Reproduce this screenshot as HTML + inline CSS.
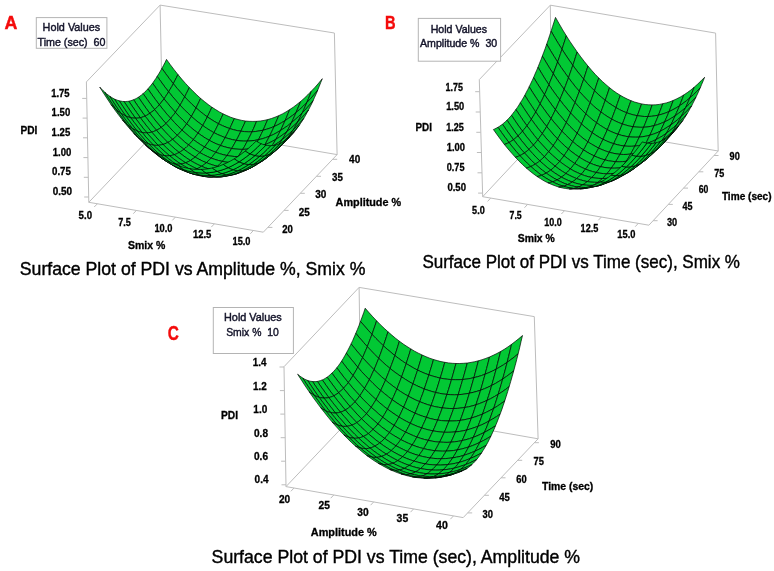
<!DOCTYPE html>
<html><head><meta charset="utf-8"><title>Surface Plots</title>
<style>html,body{margin:0;padding:0;background:#fff}svg{display:block}text{font-family:"Liberation Sans",sans-serif}</style></head>
<body>
<svg width="774" height="571" viewBox="0 0 774 571">
<rect width="774" height="571" fill="#fff"/>
<g stroke="#bdbdbd" stroke-width="1" fill="none"><line x1="88.8" y1="202.3" x2="263.3" y2="232.2"/><line x1="263.3" y1="232.2" x2="337.1" y2="154.6"/><line x1="88.8" y1="202.3" x2="86.4" y2="81.9"/><line x1="86.4" y1="81.9" x2="160.1" y2="5.1"/><line x1="160.1" y1="5.1" x2="334.4" y2="33.0"/><line x1="334.4" y1="33.0" x2="337.1" y2="154.6"/><line x1="160.1" y1="5.1" x2="162.6" y2="124.7"/><line x1="88.8" y1="202.3" x2="162.6" y2="124.7"/><line x1="162.6" y1="124.7" x2="337.1" y2="154.6"/></g>
<g stroke="#bdbdbd" stroke-width="1"><line x1="97.4" y1="203.8" x2="94.2" y2="207.0"/><line x1="136.4" y1="210.4" x2="133.3" y2="213.7"/><line x1="175.4" y1="217.1" x2="172.3" y2="220.4"/><line x1="214.4" y1="223.8" x2="211.3" y2="227.1"/><line x1="253.4" y1="230.5" x2="250.3" y2="233.8"/></g><g stroke="#bdbdbd" stroke-width="1"><line x1="267.9" y1="227.4" x2="272.4" y2="227.4"/><line x1="284.1" y1="210.4" x2="288.6" y2="210.4"/><line x1="300.3" y1="193.3" x2="304.8" y2="193.3"/><line x1="316.5" y1="176.3" x2="321.0" y2="176.3"/><line x1="332.7" y1="159.3" x2="337.2" y2="159.3"/></g><g stroke="#bdbdbd" stroke-width="1"><line x1="88.7" y1="197.0" x2="84.2" y2="197.0"/><line x1="88.3" y1="177.3" x2="83.8" y2="177.3"/><line x1="87.9" y1="157.6" x2="83.4" y2="157.6"/><line x1="87.5" y1="137.8" x2="83.0" y2="137.8"/><line x1="87.1" y1="118.1" x2="82.6" y2="118.1"/><line x1="86.7" y1="98.4" x2="82.2" y2="98.4"/></g>
<g fill="#02c834" stroke="#000" stroke-width="0.68" stroke-linejoin="round"><polygon points="161.9,68.4 165.7,73.7 169.5,78.8 173.3,83.7 174.8,80.7 176.4,77.7 177.9,74.5 174.1,69.7 170.3,64.7 166.5,59.4 165.0,62.6 163.4,65.6"/><polygon points="173.3,83.7 177.1,88.3 180.9,92.7 184.7,96.8 186.2,93.8 187.8,90.7 189.3,87.5 185.5,83.4 181.7,79.1 177.9,74.5 176.4,77.7 174.8,80.7"/><polygon points="184.7,96.8 188.5,100.8 192.2,104.5 196.0,107.9 197.5,104.9 199.1,101.7 200.6,98.4 196.9,95.0 193.1,91.3 189.3,87.5 187.8,90.7 186.2,93.8"/><polygon points="196.0,107.9 199.8,111.1 203.5,114.1 207.3,116.9 208.8,113.8 210.4,110.5 211.9,107.2 208.2,104.5 204.4,101.5 200.6,98.4 199.1,101.7 197.5,104.9"/><polygon points="207.3,116.9 211.1,119.4 214.8,121.7 218.5,123.8 220.1,120.6 221.6,117.3 223.2,113.9 219.4,111.9 215.7,109.6 211.9,107.2 210.4,110.5 208.8,113.8"/><polygon points="218.5,123.8 222.3,125.6 226.0,127.2 229.7,128.6 231.3,125.3 232.8,121.9 234.4,118.5 230.6,117.2 226.9,115.6 223.2,113.9 221.6,117.3 220.1,120.6"/><polygon points="229.7,128.6 233.5,129.7 237.2,130.6 240.9,131.2 242.4,127.9 244.0,124.5 245.5,121.0 241.8,120.4 238.1,119.5 234.4,118.5 232.8,121.9 231.3,125.3"/><polygon points="240.9,131.2 244.6,131.6 248.3,131.8 252.0,131.8 253.6,128.4 255.1,124.9 256.6,121.3 252.9,121.4 249.2,121.3 245.5,121.0 244.0,124.5 242.4,127.9"/><polygon points="252.0,131.8 255.7,131.5 259.4,130.9 263.1,130.2 264.6,126.8 266.1,123.2 267.7,119.6 264.0,120.4 260.3,121.0 256.6,121.3 255.1,124.9 253.6,128.4"/><polygon points="263.1,130.2 266.8,129.2 270.4,128.0 274.1,126.5 275.6,123.0 277.2,119.4 278.7,115.7 275.0,117.2 271.4,118.5 267.7,119.6 266.1,123.2 264.6,126.8"/><polygon points="274.1,126.5 277.8,124.8 281.4,122.8 285.1,120.6 286.6,117.1 288.1,113.4 289.7,109.6 286.0,111.9 282.4,113.9 278.7,115.7 277.2,119.4 275.6,123.0"/><polygon points="285.1,120.6 288.7,118.2 292.4,115.5 296.0,112.6 297.5,109.0 299.1,105.3 300.6,101.5 296.9,104.4 293.3,107.2 289.7,109.6 288.1,113.4 286.6,117.1"/><polygon points="296.0,112.6 299.6,109.5 303.3,106.1 306.9,102.5 308.4,98.8 309.9,95.1 311.4,91.1 307.8,94.8 304.2,98.3 300.6,101.5 299.1,105.3 297.5,109.0"/><polygon points="306.9,102.5 310.5,98.7 314.1,94.6 317.7,90.2 319.2,86.5 320.7,82.6 322.3,78.7 318.7,83.1 315.1,87.2 311.4,91.1 309.9,95.1 308.4,98.8"/><polygon points="157.2,76.3 161.0,81.7 164.8,86.9 168.6,91.8 170.2,89.2 171.8,86.5 173.3,83.7 169.5,78.8 165.7,73.7 161.9,68.4 160.3,71.2 158.8,73.8"/><polygon points="168.6,91.8 172.4,96.4 176.2,100.9 180.0,105.1 181.6,102.5 183.1,99.7 184.7,96.8 180.9,92.7 177.1,88.3 173.3,83.7 171.8,86.5 170.2,89.2"/><polygon points="180.0,105.1 183.8,109.1 187.6,112.9 191.4,116.4 192.9,113.7 194.5,110.9 196.0,107.9 192.2,104.5 188.5,100.8 184.7,96.8 183.1,99.7 181.6,102.5"/><polygon points="191.4,116.4 195.1,119.7 198.9,122.7 202.7,125.5 204.2,122.8 205.8,119.9 207.3,116.9 203.5,114.1 199.8,111.1 196.0,107.9 194.5,110.9 192.9,113.7"/><polygon points="202.7,125.5 206.4,128.1 210.2,130.5 213.9,132.6 215.5,129.8 217.0,126.8 218.5,123.8 214.8,121.7 211.1,119.4 207.3,116.9 205.8,119.9 204.2,122.8"/><polygon points="213.9,132.6 217.6,134.5 221.4,136.1 225.1,137.6 226.7,134.7 228.2,131.7 229.7,128.6 226.0,127.2 222.3,125.6 218.5,123.8 217.0,126.8 215.5,129.8"/><polygon points="225.1,137.6 228.8,138.7 232.6,139.7 236.3,140.4 237.8,137.5 239.4,134.4 240.9,131.2 237.2,130.6 233.5,129.7 229.7,128.6 228.2,131.7 226.7,134.7"/><polygon points="236.3,140.4 240.0,140.9 243.7,141.1 247.4,141.1 248.9,138.1 250.5,135.0 252.0,131.8 248.3,131.8 244.6,131.6 240.9,131.2 239.4,134.4 237.8,137.5"/><polygon points="247.4,141.1 251.1,140.9 254.8,140.4 258.5,139.7 260.0,136.7 261.5,133.5 263.1,130.2 259.4,130.9 255.7,131.5 252.0,131.8 250.5,135.0 248.9,138.1"/><polygon points="258.5,139.7 262.1,138.8 265.8,137.6 269.5,136.2 271.0,133.1 272.6,129.8 274.1,126.5 270.4,128.0 266.8,129.2 263.1,130.2 261.5,133.5 260.0,136.7"/><polygon points="269.5,136.2 273.2,134.6 276.8,132.7 280.5,130.5 282.0,127.4 283.5,124.1 285.1,120.6 281.4,122.8 277.8,124.8 274.1,126.5 272.6,129.8 271.0,133.1"/><polygon points="280.5,130.5 284.1,128.2 287.8,125.6 291.4,122.7 292.9,119.5 294.5,116.1 296.0,112.6 292.4,115.5 288.7,118.2 285.1,120.6 283.5,124.1 282.0,127.4"/><polygon points="291.4,122.7 295.0,119.7 298.7,116.3 302.3,112.8 303.8,109.5 305.3,106.1 306.9,102.5 303.3,106.1 299.6,109.5 296.0,112.6 294.5,116.1 292.9,119.5"/><polygon points="302.3,112.8 305.9,109.0 309.5,105.0 313.1,100.7 314.6,97.3 316.2,93.8 317.7,90.2 314.1,94.6 310.5,98.7 306.9,102.5 305.3,106.1 303.8,109.5"/><polygon points="152.6,83.2 156.4,88.6 160.2,93.8 164.0,98.8 165.5,96.6 167.1,94.2 168.6,91.8 164.8,86.9 161.0,81.7 157.2,76.3 155.7,78.7 154.1,81.0"/><polygon points="164.0,98.8 167.8,103.5 171.6,108.0 175.4,112.3 176.9,110.0 178.5,107.6 180.0,105.1 176.2,100.9 172.4,96.4 168.6,91.8 167.1,94.2 165.5,96.6"/><polygon points="175.4,112.3 179.1,116.4 182.9,120.2 186.7,123.8 188.3,121.4 189.8,119.0 191.4,116.4 187.6,112.9 183.8,109.1 180.0,105.1 178.5,107.6 176.9,110.0"/><polygon points="186.7,123.8 190.5,127.1 194.2,130.2 198.0,133.1 199.6,130.7 201.1,128.2 202.7,125.5 198.9,122.7 195.1,119.7 191.4,116.4 189.8,119.0 188.3,121.4"/><polygon points="198.0,133.1 201.8,135.7 205.5,138.2 209.3,140.3 210.8,137.9 212.4,135.3 213.9,132.6 210.2,130.5 206.4,128.1 202.7,125.5 201.1,128.2 199.6,130.7"/><polygon points="209.3,140.3 213.0,142.3 216.7,144.0 220.5,145.5 222.0,143.0 223.6,140.3 225.1,137.6 221.4,136.1 217.6,134.5 213.9,132.6 212.4,135.3 210.8,137.9"/><polygon points="220.5,145.5 224.2,146.7 227.9,147.7 231.6,148.5 233.2,145.9 234.7,143.2 236.3,140.4 232.6,139.7 228.8,138.7 225.1,137.6 223.6,140.3 222.0,143.0"/><polygon points="231.6,148.5 235.3,149.0 239.0,149.3 242.7,149.4 244.3,146.8 245.8,144.0 247.4,141.1 243.7,141.1 240.0,140.9 236.3,140.4 234.7,143.2 233.2,145.9"/><polygon points="242.7,149.4 246.4,149.2 250.1,148.8 253.8,148.2 255.4,145.5 256.9,142.7 258.5,139.7 254.8,140.4 251.1,140.9 247.4,141.1 245.8,144.0 244.3,146.8"/><polygon points="253.8,148.2 257.5,147.3 261.2,146.2 264.9,144.8 266.4,142.1 267.9,139.2 269.5,136.2 265.8,137.6 262.1,138.8 258.5,139.7 256.9,142.7 255.4,145.5"/><polygon points="264.9,144.8 268.5,143.2 272.2,141.4 275.8,139.4 277.4,136.5 278.9,133.6 280.5,130.5 276.8,132.7 273.2,134.6 269.5,136.2 267.9,139.2 266.4,142.1"/><polygon points="275.8,139.4 279.5,137.0 283.1,134.5 286.8,131.7 288.3,128.9 289.9,125.9 291.4,122.7 287.8,125.6 284.1,128.2 280.5,130.5 278.9,133.6 277.4,136.5"/><polygon points="286.8,131.7 290.4,128.7 294.0,125.5 297.7,122.0 299.2,119.0 300.7,116.0 302.3,112.8 298.7,116.3 295.0,119.7 291.4,122.7 289.9,125.9 288.3,128.9"/><polygon points="297.7,122.0 301.3,118.2 304.9,114.3 308.5,110.0 310.0,107.0 311.6,103.9 313.1,100.7 309.5,105.0 305.9,109.0 302.3,112.8 300.7,116.0 299.2,119.0"/><polygon points="147.9,88.9 151.7,94.4 155.5,99.7 159.3,104.7 160.9,102.9 162.4,100.9 164.0,98.8 160.2,93.8 156.4,88.6 152.6,83.2 151.0,85.2 149.4,87.1"/><polygon points="159.3,104.7 163.1,109.5 166.9,114.1 170.7,118.4 172.2,116.5 173.8,114.5 175.4,112.3 171.6,108.0 167.8,103.5 164.0,98.8 162.4,100.9 160.9,102.9"/><polygon points="170.7,118.4 174.5,122.5 178.2,126.4 182.0,130.1 183.6,128.1 185.1,126.0 186.7,123.8 182.9,120.2 179.1,116.4 175.4,112.3 173.8,114.5 172.2,116.5"/><polygon points="182.0,130.1 185.8,133.5 189.5,136.6 193.3,139.6 194.9,137.5 196.4,135.4 198.0,133.1 194.2,130.2 190.5,127.1 186.7,123.8 185.1,126.0 183.6,128.1"/><polygon points="193.3,139.6 197.1,142.3 200.8,144.8 204.6,147.0 206.1,144.9 207.7,142.7 209.3,140.3 205.5,138.2 201.8,135.7 198.0,133.1 196.4,135.4 194.9,137.5"/><polygon points="204.6,147.0 208.3,149.0 212.1,150.8 215.8,152.3 217.3,150.1 218.9,147.9 220.5,145.5 216.7,144.0 213.0,142.3 209.3,140.3 207.7,142.7 206.1,144.9"/><polygon points="215.8,152.3 219.5,153.6 223.2,154.7 227.0,155.5 228.5,153.3 230.1,151.0 231.6,148.5 227.9,147.7 224.2,146.7 220.5,145.5 218.9,147.9 217.3,150.1"/><polygon points="227.0,155.5 230.7,156.1 234.4,156.5 238.1,156.6 239.6,154.3 241.2,151.9 242.7,149.4 239.0,149.3 235.3,149.0 231.6,148.5 230.1,151.0 228.5,153.3"/><polygon points="238.1,156.6 241.8,156.5 245.5,156.1 249.2,155.5 250.7,153.2 252.3,150.8 253.8,148.2 250.1,148.8 246.4,149.2 242.7,149.4 241.2,151.9 239.6,154.3"/><polygon points="249.2,155.5 252.8,154.7 256.5,153.7 260.2,152.4 261.7,150.0 263.3,147.5 264.9,144.8 261.2,146.2 257.5,147.3 253.8,148.2 252.3,150.8 250.7,153.2"/><polygon points="260.2,152.4 263.9,150.8 267.5,149.1 271.2,147.1 272.7,144.6 274.3,142.0 275.8,139.4 272.2,141.4 268.5,143.2 264.9,144.8 263.3,147.5 261.7,150.0"/><polygon points="271.2,147.1 274.8,144.8 278.5,142.4 282.1,139.6 283.7,137.1 285.2,134.5 286.8,131.7 283.1,134.5 279.5,137.0 275.8,139.4 274.3,142.0 272.7,144.6"/><polygon points="282.1,139.6 285.8,136.7 289.4,133.5 293.0,130.1 294.6,127.5 296.1,124.8 297.7,122.0 294.0,125.5 290.4,128.7 286.8,131.7 285.2,134.5 283.7,137.1"/><polygon points="293.0,130.1 296.6,126.4 300.2,122.5 303.8,118.3 305.4,115.7 306.9,112.9 308.5,110.0 304.9,114.3 301.3,118.2 297.7,122.0 296.1,124.8 294.6,127.5"/><polygon points="143.1,93.6 147.0,99.2 150.8,104.5 154.6,109.6 156.1,108.1 157.7,106.5 159.3,104.7 155.5,99.7 151.7,94.4 147.9,88.9 146.3,90.6 144.7,92.2"/><polygon points="154.6,109.6 158.4,114.4 162.2,119.1 166.0,123.5 167.5,121.9 169.1,120.2 170.7,118.4 166.9,114.1 163.1,109.5 159.3,104.7 157.7,106.5 156.1,108.1"/><polygon points="166.0,123.5 169.7,127.6 173.5,131.6 177.3,135.3 178.9,133.7 180.4,131.9 182.0,130.1 178.2,126.4 174.5,122.5 170.7,118.4 169.1,120.2 167.5,121.9"/><polygon points="177.3,135.3 181.1,138.7 184.8,142.0 188.6,145.0 190.2,143.3 191.7,141.5 193.3,139.6 189.5,136.6 185.8,133.5 182.0,130.1 180.4,131.9 178.9,133.7"/><polygon points="188.6,145.0 192.4,147.7 196.1,150.3 199.9,152.6 201.4,150.8 203.0,149.0 204.6,147.0 200.8,144.8 197.1,142.3 193.3,139.6 191.7,141.5 190.2,143.3"/><polygon points="199.9,152.6 203.6,154.6 207.3,156.5 211.1,158.1 212.7,156.3 214.2,154.3 215.8,152.3 212.1,150.8 208.3,149.0 204.6,147.0 203.0,149.0 201.4,150.8"/><polygon points="211.1,158.1 214.8,159.4 218.5,160.5 222.3,161.4 223.8,159.6 225.4,157.6 227.0,155.5 223.2,154.7 219.5,153.6 215.8,152.3 214.2,154.3 212.7,156.3"/><polygon points="222.3,161.4 226.0,162.1 229.7,162.5 233.4,162.7 235.0,160.8 236.5,158.7 238.1,156.6 234.4,156.5 230.7,156.1 227.0,155.5 225.4,157.6 223.8,159.6"/><polygon points="233.4,162.7 237.1,162.6 240.8,162.3 244.5,161.8 246.0,159.9 247.6,157.8 249.2,155.5 245.5,156.1 241.8,156.5 238.1,156.6 236.5,158.7 235.0,160.8"/><polygon points="244.5,161.8 248.2,161.1 251.8,160.1 255.5,158.8 257.1,156.8 258.6,154.7 260.2,152.4 256.5,153.7 252.8,154.7 249.2,155.5 247.6,157.8 246.0,159.9"/><polygon points="255.5,158.8 259.2,157.4 262.8,155.7 266.5,153.7 268.1,151.6 269.6,149.4 271.2,147.1 267.5,149.1 263.9,150.8 260.2,152.4 258.6,154.7 257.1,156.8"/><polygon points="266.5,153.7 270.2,151.5 273.8,149.1 277.4,146.4 279.0,144.3 280.6,142.0 282.1,139.6 278.5,142.4 274.8,144.8 271.2,147.1 269.6,149.4 268.1,151.6"/><polygon points="277.4,146.4 281.1,143.6 284.7,140.4 288.3,137.0 289.9,134.8 291.5,132.5 293.0,130.1 289.4,133.5 285.8,136.7 282.1,139.6 280.6,142.0 279.0,144.3"/><polygon points="288.3,137.0 292.0,133.4 295.6,129.6 299.2,125.5 300.7,123.2 302.3,120.8 303.8,118.3 300.2,122.5 296.6,126.4 293.0,130.1 291.5,132.5 289.9,134.8"/><polygon points="138.4,97.2 142.2,102.8 146.0,108.2 149.8,113.4 151.4,112.2 153.0,111.0 154.6,109.6 150.8,104.5 147.0,99.2 143.1,93.6 141.6,94.9 140.0,96.1"/><polygon points="149.8,113.4 153.6,118.3 157.4,123.0 161.2,127.4 162.8,126.2 164.4,124.9 166.0,123.5 162.2,119.1 158.4,114.4 154.6,109.6 153.0,111.0 151.4,112.2"/><polygon points="161.2,127.4 165.0,131.7 168.8,135.6 172.6,139.4 174.1,138.1 175.7,136.8 177.3,135.3 173.5,131.6 169.7,127.6 166.0,123.5 164.4,124.9 162.8,126.2"/><polygon points="172.6,139.4 176.3,142.9 180.1,146.2 183.9,149.3 185.5,148.0 187.0,146.5 188.6,145.0 184.8,142.0 181.1,138.7 177.3,135.3 175.7,136.8 174.1,138.1"/><polygon points="183.9,149.3 187.6,152.1 191.4,154.7 195.1,157.1 196.7,155.7 198.3,154.2 199.9,152.6 196.1,150.3 192.4,147.7 188.6,145.0 187.0,146.5 185.5,148.0"/><polygon points="195.1,157.1 198.9,159.2 202.6,161.1 206.4,162.7 207.9,161.3 209.5,159.7 211.1,158.1 207.3,156.5 203.6,154.6 199.9,152.6 198.3,154.2 196.7,155.7"/><polygon points="206.4,162.7 210.1,164.1 213.8,165.3 217.5,166.3 219.1,164.8 220.7,163.2 222.3,161.4 218.5,160.5 214.8,159.4 211.1,158.1 209.5,159.7 207.9,161.3"/><polygon points="217.5,166.3 221.3,167.0 225.0,167.5 228.7,167.7 230.2,166.2 231.8,164.5 233.4,162.7 229.7,162.5 226.0,162.1 222.3,161.4 220.7,163.2 219.1,164.8"/><polygon points="228.7,167.7 232.4,167.7 236.1,167.5 239.8,167.0 241.3,165.4 242.9,163.7 244.5,161.8 240.8,162.3 237.1,162.6 233.4,162.7 231.8,164.5 230.2,166.2"/><polygon points="239.8,167.0 243.4,166.3 247.1,165.4 250.8,164.2 252.4,162.5 253.9,160.7 255.5,158.8 251.8,160.1 248.2,161.1 244.5,161.8 242.9,163.7 241.3,165.4"/><polygon points="250.8,164.2 254.5,162.8 258.1,161.1 261.8,159.3 263.4,157.5 264.9,155.7 266.5,153.7 262.8,155.7 259.2,157.4 255.5,158.8 253.9,160.7 252.4,162.5"/><polygon points="261.8,159.3 265.4,157.1 269.1,154.8 272.7,152.2 274.3,150.4 275.9,148.5 277.4,146.4 273.8,149.1 270.2,151.5 266.5,153.7 264.9,155.7 263.4,157.5"/><polygon points="272.7,152.2 276.4,149.3 280.0,146.3 283.6,143.0 285.2,141.1 286.8,139.1 288.3,137.0 284.7,140.4 281.1,143.6 277.4,146.4 275.9,148.5 274.3,150.4"/><polygon points="283.6,143.0 287.3,139.4 290.9,135.6 294.5,131.6 296.1,129.7 297.6,127.6 299.2,125.5 295.6,129.6 292.0,133.4 288.3,137.0 286.8,139.1 285.2,141.1"/><polygon points="133.6,99.7 137.4,105.4 141.3,110.9 145.1,116.1 146.7,115.3 148.2,114.4 149.8,113.4 146.0,108.2 142.2,102.8 138.4,97.2 136.8,98.2 135.2,99.0"/><polygon points="145.1,116.1 148.9,121.0 152.7,125.8 156.5,130.3 158.0,129.5 159.6,128.5 161.2,127.4 157.4,123.0 153.6,118.3 149.8,113.4 148.2,114.4 146.7,115.3"/><polygon points="156.5,130.3 160.2,134.6 164.0,138.6 167.8,142.5 169.4,141.6 171.0,140.5 172.6,139.4 168.8,135.6 165.0,131.7 161.2,127.4 159.6,128.5 158.0,129.5"/><polygon points="167.8,142.5 171.6,146.0 175.4,149.4 179.1,152.5 180.7,151.6 182.3,150.5 183.9,149.3 180.1,146.2 176.3,142.9 172.6,139.4 171.0,140.5 169.4,141.6"/><polygon points="179.1,152.5 182.9,155.4 186.6,158.0 190.4,160.5 192.0,159.4 193.6,158.3 195.1,157.1 191.4,154.7 187.6,152.1 183.9,149.3 182.3,150.5 180.7,151.6"/><polygon points="190.4,160.5 194.1,162.6 197.9,164.6 201.6,166.3 203.2,165.2 204.8,164.0 206.4,162.7 202.6,161.1 198.9,159.2 195.1,157.1 193.6,158.3 192.0,159.4"/><polygon points="201.6,166.3 205.3,167.8 209.1,169.0 212.8,170.0 214.4,168.9 216.0,167.6 217.5,166.3 213.8,165.3 210.1,164.1 206.4,162.7 204.8,164.0 203.2,165.2"/><polygon points="212.8,170.0 216.5,170.8 220.2,171.3 223.9,171.6 225.5,170.4 227.1,169.1 228.7,167.7 225.0,167.5 221.3,167.0 217.5,166.3 216.0,167.6 214.4,168.9"/><polygon points="223.9,171.6 227.6,171.7 231.3,171.5 235.0,171.1 236.6,169.9 238.2,168.5 239.8,167.0 236.1,167.5 232.4,167.7 228.7,167.7 227.1,169.1 225.5,170.4"/><polygon points="235.0,171.1 238.7,170.5 242.4,169.6 246.1,168.5 247.6,167.2 249.2,165.7 250.8,164.2 247.1,165.4 243.4,166.3 239.8,167.0 238.2,168.5 236.6,169.9"/><polygon points="246.1,168.5 249.7,167.1 253.4,165.5 257.1,163.7 258.6,162.3 260.2,160.9 261.8,159.3 258.1,161.1 254.5,162.8 250.8,164.2 249.2,165.7 247.6,167.2"/><polygon points="257.1,163.7 260.7,161.6 264.4,159.3 268.0,156.8 269.6,155.4 271.2,153.8 272.7,152.2 269.1,154.8 265.4,157.1 261.8,159.3 260.2,160.9 258.6,162.3"/><polygon points="268.0,156.8 271.7,154.0 275.3,151.0 278.9,147.8 280.5,146.3 282.1,144.7 283.6,143.0 280.0,146.3 276.4,149.3 272.7,152.2 271.2,153.8 269.6,155.4"/><polygon points="278.9,147.8 282.5,144.3 286.2,140.5 289.8,136.6 291.4,135.0 292.9,133.4 294.5,131.6 290.9,135.6 287.3,139.4 283.6,143.0 282.1,144.7 280.5,146.3"/><polygon points="128.8,101.2 132.7,106.9 136.5,112.4 140.3,117.7 141.9,117.3 143.5,116.7 145.1,116.1 141.3,110.9 137.4,105.4 133.6,99.7 132.0,100.3 130.4,100.8"/><polygon points="140.3,117.7 144.1,122.7 147.9,127.5 151.7,132.1 153.3,131.6 154.9,131.0 156.5,130.3 152.7,125.8 148.9,121.0 145.1,116.1 143.5,116.7 141.9,117.3"/><polygon points="151.7,132.1 155.5,136.4 159.3,140.6 163.0,144.4 164.6,143.9 166.2,143.2 167.8,142.5 164.0,138.6 160.2,134.6 156.5,130.3 154.9,131.0 153.3,131.6"/><polygon points="163.0,144.4 166.8,148.1 170.6,151.5 174.3,154.7 175.9,154.1 177.5,153.3 179.1,152.5 175.4,149.4 171.6,146.0 167.8,142.5 166.2,143.2 164.6,143.9"/><polygon points="174.3,154.7 178.1,157.6 181.9,160.3 185.6,162.8 187.2,162.1 188.8,161.4 190.4,160.5 186.6,158.0 182.9,155.4 179.1,152.5 177.5,153.3 175.9,154.1"/><polygon points="185.6,162.8 189.4,165.0 193.1,167.0 196.8,168.8 198.4,168.1 200.0,167.2 201.6,166.3 197.9,164.6 194.1,162.6 190.4,160.5 188.8,161.4 187.2,162.1"/><polygon points="196.8,168.8 200.6,170.3 204.3,171.6 208.0,172.7 209.6,171.9 211.2,171.0 212.8,170.0 209.1,169.0 205.3,167.8 201.6,166.3 200.0,167.2 198.4,168.1"/><polygon points="208.0,172.7 211.7,173.5 215.5,174.1 219.2,174.5 220.8,173.6 222.3,172.7 223.9,171.6 220.2,171.3 216.5,170.8 212.8,170.0 211.2,171.0 209.6,171.9"/><polygon points="219.2,174.5 222.9,174.6 226.6,174.5 230.3,174.1 231.9,173.3 233.4,172.2 235.0,171.1 231.3,171.5 227.6,171.7 223.9,171.6 222.3,172.7 220.8,173.6"/><polygon points="230.3,174.1 234.0,173.6 237.6,172.7 241.3,171.7 242.9,170.7 244.5,169.7 246.1,168.5 242.4,169.6 238.7,170.5 235.0,171.1 233.4,172.2 231.9,173.3"/><polygon points="241.3,171.7 245.0,170.4 248.7,168.8 252.3,167.1 253.9,166.1 255.5,165.0 257.1,163.7 253.4,165.5 249.7,167.1 246.1,168.5 244.5,169.7 242.9,170.7"/><polygon points="252.3,167.1 256.0,165.1 259.6,162.8 263.3,160.4 264.9,159.3 266.4,158.1 268.0,156.8 264.4,159.3 260.7,161.6 257.1,163.7 255.5,165.0 253.9,166.1"/><polygon points="263.3,160.4 266.9,157.6 270.6,154.7 274.2,151.5 275.8,150.4 277.3,149.1 278.9,147.8 275.3,151.0 271.7,154.0 268.0,156.8 266.4,158.1 264.9,159.3"/><polygon points="274.2,151.5 277.8,148.1 281.4,144.4 285.0,140.5 286.6,139.3 288.2,138.0 289.8,136.6 286.2,140.5 282.5,144.3 278.9,147.8 277.3,149.1 275.8,150.4"/><polygon points="124.0,101.5 127.9,107.3 131.7,112.9 135.5,118.2 137.1,118.2 138.7,118.0 140.3,117.7 136.5,112.4 132.7,106.9 128.8,101.2 127.2,101.4 125.6,101.5"/><polygon points="135.5,118.2 139.3,123.3 143.1,128.2 146.9,132.8 148.5,132.7 150.1,132.5 151.7,132.1 147.9,127.5 144.1,122.7 140.3,117.7 138.7,118.0 137.1,118.2"/><polygon points="146.9,132.8 150.7,137.2 154.5,141.4 158.2,145.3 159.8,145.1 161.4,144.8 163.0,144.4 159.3,140.6 155.5,136.4 151.7,132.1 150.1,132.5 148.5,132.7"/><polygon points="158.2,145.3 162.0,149.0 165.8,152.5 169.5,155.7 171.2,155.5 172.7,155.1 174.3,154.7 170.6,151.5 166.8,148.1 163.0,144.4 161.4,144.8 159.8,145.1"/><polygon points="169.5,155.7 173.3,158.7 177.1,161.5 180.8,164.0 182.4,163.7 184.0,163.3 185.6,162.8 181.9,160.3 178.1,157.6 174.3,154.7 172.7,155.1 171.2,155.5"/><polygon points="180.8,164.0 184.6,166.3 188.3,168.4 192.1,170.2 193.7,169.8 195.2,169.4 196.8,168.8 193.1,167.0 189.4,165.0 185.6,162.8 184.0,163.3 182.4,163.7"/><polygon points="192.1,170.2 195.8,171.8 199.5,173.1 203.2,174.3 204.8,173.9 206.4,173.3 208.0,172.7 204.3,171.6 200.6,170.3 196.8,168.8 195.2,169.4 193.7,169.8"/><polygon points="203.2,174.3 207.0,175.2 210.7,175.8 214.4,176.2 216.0,175.8 217.6,175.2 219.2,174.5 215.5,174.1 211.7,173.5 208.0,172.7 206.4,173.3 204.8,173.9"/><polygon points="214.4,176.2 218.1,176.4 221.8,176.4 225.5,176.1 227.1,175.5 228.7,174.9 230.3,174.1 226.6,174.5 222.9,174.6 219.2,174.5 217.6,175.2 216.0,175.8"/><polygon points="225.5,176.1 229.2,175.5 232.9,174.8 236.5,173.8 238.1,173.2 239.7,172.5 241.3,171.7 237.6,172.7 234.0,173.6 230.3,174.1 228.7,174.9 227.1,175.5"/><polygon points="236.5,173.8 240.2,172.5 243.9,171.1 247.5,169.4 249.1,168.7 250.7,168.0 252.3,167.1 248.7,168.8 245.0,170.4 241.3,171.7 239.7,172.5 238.1,173.2"/><polygon points="247.5,169.4 251.2,167.4 254.9,165.2 258.5,162.8 260.1,162.1 261.7,161.3 263.3,160.4 259.6,162.8 256.0,165.1 252.3,167.1 250.7,168.0 249.1,168.7"/><polygon points="258.5,162.8 262.1,160.2 265.8,157.3 269.4,154.1 271.0,153.4 272.6,152.5 274.2,151.5 270.6,154.7 266.9,157.6 263.3,160.4 261.7,161.3 260.1,162.1"/><polygon points="269.4,154.1 273.0,150.8 276.7,147.1 280.3,143.3 281.9,142.5 283.5,141.5 285.0,140.5 281.4,144.4 277.8,148.1 274.2,151.5 272.6,152.5 271.0,153.4"/><polygon points="119.2,100.8 123.0,106.6 126.8,112.3 130.6,117.7 132.3,118.0 133.9,118.1 135.5,118.2 131.7,112.9 127.9,107.3 124.0,101.5 122.4,101.4 120.8,101.1"/><polygon points="130.6,117.7 134.5,122.8 138.3,127.7 142.1,132.4 143.7,132.7 145.3,132.8 146.9,132.8 143.1,128.2 139.3,123.3 135.5,118.2 133.9,118.1 132.3,118.0"/><polygon points="142.1,132.4 145.8,136.9 149.6,141.1 153.4,145.1 155.0,145.3 156.6,145.4 158.2,145.3 154.5,141.4 150.7,137.2 146.9,132.8 145.3,132.8 143.7,132.7"/><polygon points="153.4,145.1 157.2,148.9 161.0,152.4 164.7,155.7 166.3,155.8 167.9,155.8 169.5,155.7 165.8,152.5 162.0,149.0 158.2,145.3 156.6,145.4 155.0,145.3"/><polygon points="164.7,155.7 168.5,158.7 172.3,161.6 176.0,164.2 177.6,164.2 179.2,164.2 180.8,164.0 177.1,161.5 173.3,158.7 169.5,155.7 167.9,155.8 166.3,155.8"/><polygon points="176.0,164.2 179.8,166.5 183.5,168.6 187.2,170.5 188.8,170.5 190.5,170.4 192.1,170.2 188.3,168.4 184.6,166.3 180.8,164.0 179.2,164.2 177.6,164.2"/><polygon points="187.2,170.5 191.0,172.2 194.7,173.6 198.4,174.8 200.0,174.7 201.6,174.6 203.2,174.3 199.5,173.1 195.8,171.8 192.1,170.2 190.5,170.4 188.8,170.5"/><polygon points="198.4,174.8 202.2,175.7 205.9,176.4 209.6,176.9 211.2,176.8 212.8,176.6 214.4,176.2 210.7,175.8 207.0,175.2 203.2,174.3 201.6,174.6 200.0,174.7"/><polygon points="209.6,176.9 213.3,177.1 217.0,177.1 220.7,176.9 222.3,176.7 223.9,176.5 225.5,176.1 221.8,176.4 218.1,176.4 214.4,176.2 212.8,176.6 211.2,176.8"/><polygon points="220.7,176.9 224.4,176.4 228.1,175.7 231.7,174.8 233.3,174.6 234.9,174.2 236.5,173.8 232.9,174.8 229.2,175.5 225.5,176.1 223.9,176.5 222.3,176.7"/><polygon points="231.7,174.8 235.4,173.6 239.1,172.2 242.7,170.5 244.3,170.3 245.9,169.9 247.5,169.4 243.9,171.1 240.2,172.5 236.5,173.8 234.9,174.2 233.3,174.6"/><polygon points="242.7,170.5 246.4,168.7 250.1,166.5 253.7,164.2 255.3,163.8 256.9,163.4 258.5,162.8 254.9,165.2 251.2,167.4 247.5,169.4 245.9,169.9 244.3,170.3"/><polygon points="253.7,164.2 257.4,161.6 261.0,158.7 264.6,155.7 266.2,155.3 267.8,154.8 269.4,154.1 265.8,157.3 262.1,160.2 258.5,162.8 256.9,163.4 255.3,163.8"/><polygon points="264.6,155.7 268.3,152.4 271.9,148.8 275.5,145.0 277.1,144.6 278.7,144.0 280.3,143.3 276.7,147.1 273.0,150.8 269.4,154.1 267.8,154.8 266.2,155.3"/><polygon points="114.4,99.0 118.2,104.9 122.0,110.6 125.8,116.0 127.4,116.7 129.0,117.2 130.6,117.7 126.8,112.3 123.0,106.6 119.2,100.8 117.6,100.3 116.0,99.7"/><polygon points="125.8,116.0 129.6,121.2 133.4,126.2 137.2,131.0 138.8,131.6 140.4,132.1 142.1,132.4 138.3,127.7 134.5,122.8 130.6,117.7 129.0,117.2 127.4,116.7"/><polygon points="137.2,131.0 141.0,135.5 144.8,139.8 148.6,143.8 150.2,144.4 151.8,144.8 153.4,145.1 149.6,141.1 145.8,136.9 142.1,132.4 140.4,132.1 138.8,131.6"/><polygon points="148.6,143.8 152.3,147.6 156.1,151.2 159.9,154.6 161.5,155.1 163.1,155.4 164.7,155.7 161.0,152.4 157.2,148.9 153.4,145.1 151.8,144.8 150.2,144.4"/><polygon points="159.9,154.6 163.7,157.7 167.4,160.6 171.2,163.2 172.8,163.7 174.4,164.0 176.0,164.2 172.3,161.6 168.5,158.7 164.7,155.7 163.1,155.4 161.5,155.1"/><polygon points="171.2,163.2 174.9,165.6 178.7,167.8 182.4,169.8 184.0,170.1 185.6,170.4 187.2,170.5 183.5,168.6 179.8,166.5 176.0,164.2 174.4,164.0 172.8,163.7"/><polygon points="182.4,169.8 186.1,171.5 189.9,172.9 193.6,174.2 195.2,174.5 196.8,174.7 198.4,174.8 194.7,173.6 191.0,172.2 187.2,170.5 185.6,170.4 184.0,170.1"/><polygon points="193.6,174.2 197.3,175.2 201.0,175.9 204.7,176.5 206.4,176.7 208.0,176.9 209.6,176.9 205.9,176.4 202.2,175.7 198.4,174.8 196.8,174.7 195.2,174.5"/><polygon points="204.7,176.5 208.5,176.8 212.2,176.8 215.9,176.7 217.5,176.9 219.1,176.9 220.7,176.9 217.0,177.1 213.3,177.1 209.6,176.9 208.0,176.9 206.4,176.7"/><polygon points="215.9,176.7 219.5,176.3 223.2,175.6 226.9,174.7 228.5,174.9 230.1,174.9 231.7,174.8 228.1,175.7 224.4,176.4 220.7,176.9 219.1,176.9 217.5,176.9"/><polygon points="226.9,174.7 230.6,173.6 234.3,172.2 237.9,170.7 239.5,170.7 241.1,170.7 242.7,170.5 239.1,172.2 235.4,173.6 231.7,174.8 230.1,174.9 228.5,174.9"/><polygon points="237.9,170.7 241.6,168.8 245.2,166.8 248.9,164.5 250.5,164.5 252.1,164.4 253.7,164.2 250.1,166.5 246.4,168.7 242.7,170.5 241.1,170.7 239.5,170.7"/><polygon points="248.9,164.5 252.5,161.9 256.2,159.1 259.8,156.1 261.4,156.1 263.0,155.9 264.6,155.7 261.0,158.7 257.4,161.6 253.7,164.2 252.1,164.4 250.5,164.5"/><polygon points="259.8,156.1 263.5,152.9 267.1,149.4 270.7,145.7 272.3,145.6 273.9,145.4 275.5,145.0 271.9,148.8 268.3,152.4 264.6,155.7 263.0,155.9 261.4,156.1"/><polygon points="109.5,96.0 113.3,102.0 117.1,107.8 120.9,113.3 122.6,114.3 124.2,115.2 125.8,116.0 122.0,110.6 118.2,104.9 114.4,99.0 112.7,98.1 111.1,97.1"/><polygon points="120.9,113.3 124.7,118.6 128.5,123.6 132.3,128.4 134.0,129.4 135.6,130.2 137.2,131.0 133.4,126.2 129.6,121.2 125.8,116.0 124.2,115.2 122.6,114.3"/><polygon points="132.3,128.4 136.1,133.0 139.9,137.3 143.7,141.4 145.3,142.4 146.9,143.2 148.6,143.8 144.8,139.8 141.0,135.5 137.2,131.0 135.6,130.2 134.0,129.4"/><polygon points="143.7,141.4 147.5,145.3 151.3,149.0 155.0,152.4 156.7,153.2 158.3,154.0 159.9,154.6 156.1,151.2 152.3,147.6 148.6,143.8 146.9,143.2 145.3,142.4"/><polygon points="155.0,152.4 158.8,155.6 162.6,158.5 166.3,161.2 167.9,162.0 169.6,162.7 171.2,163.2 167.4,160.6 163.7,157.7 159.9,154.6 158.3,154.0 156.7,153.2"/><polygon points="166.3,161.2 170.1,163.7 173.8,165.9 177.5,167.9 179.2,168.6 180.8,169.3 182.4,169.8 178.7,167.8 174.9,165.6 171.2,163.2 169.6,162.7 167.9,162.0"/><polygon points="177.5,167.9 181.3,169.7 185.0,171.2 188.7,172.5 190.4,173.2 192.0,173.7 193.6,174.2 189.9,172.9 186.1,171.5 182.4,169.8 180.8,169.3 179.2,168.6"/><polygon points="188.7,172.5 192.5,173.6 196.2,174.4 199.9,175.0 201.5,175.6 203.1,176.1 204.7,176.5 201.0,175.9 197.3,175.2 193.6,174.2 192.0,173.7 190.4,173.2"/><polygon points="199.9,175.0 203.6,175.3 207.3,175.4 211.0,175.3 212.6,175.9 214.2,176.3 215.9,176.7 212.2,176.8 208.5,176.8 204.7,176.5 203.1,176.1 201.5,175.6"/><polygon points="211.0,175.3 214.7,175.0 218.4,174.4 222.1,173.6 223.7,174.1 225.3,174.5 226.9,174.7 223.2,175.6 219.5,176.3 215.9,176.7 214.2,176.3 212.6,175.9"/><polygon points="222.1,173.6 225.7,172.5 229.4,171.2 233.1,169.7 234.7,170.1 236.3,170.4 237.9,170.7 234.3,172.2 230.6,173.6 226.9,174.7 225.3,174.5 223.7,174.1"/><polygon points="233.1,169.7 236.8,167.9 240.4,165.9 244.1,163.7 245.7,164.0 247.3,164.3 248.9,164.5 245.2,166.8 241.6,168.8 237.9,170.7 236.3,170.4 234.7,170.1"/><polygon points="244.1,163.7 247.7,161.2 251.4,158.5 255.0,155.5 256.6,155.8 258.2,156.0 259.8,156.1 256.2,159.1 252.5,161.9 248.9,164.5 247.3,164.3 245.7,164.0"/><polygon points="255.0,155.5 258.6,152.3 262.2,148.9 265.9,145.2 267.5,145.5 269.1,145.6 270.7,145.7 267.1,149.4 263.5,152.9 259.8,156.1 258.2,156.0 256.6,155.8"/><polygon points="104.6,92.0 108.4,98.1 112.2,103.9 116.0,109.5 117.7,110.9 119.3,112.1 120.9,113.3 117.1,107.8 113.3,102.0 109.5,96.0 107.9,94.8 106.2,93.5"/><polygon points="116.0,109.5 119.8,114.8 123.7,119.9 127.5,124.8 129.1,126.1 130.7,127.3 132.3,128.4 128.5,123.6 124.7,118.6 120.9,113.3 119.3,112.1 117.7,110.9"/><polygon points="127.5,124.8 131.2,129.4 135.0,133.8 138.8,138.0 140.4,139.3 142.1,140.4 143.7,141.4 139.9,137.3 136.1,133.0 132.3,128.4 130.7,127.3 129.1,126.1"/><polygon points="138.8,138.0 142.6,141.9 146.4,145.6 150.1,149.1 151.8,150.3 153.4,151.4 155.0,152.4 151.3,149.0 147.5,145.3 143.7,141.4 142.1,140.4 140.4,139.3"/><polygon points="150.1,149.1 153.9,152.3 157.7,155.3 161.4,158.1 163.1,159.2 164.7,160.3 166.3,161.2 162.6,158.5 158.8,155.6 155.0,152.4 153.4,151.4 151.8,150.3"/><polygon points="161.4,158.1 165.2,160.6 168.9,162.9 172.7,165.0 174.3,166.1 175.9,167.0 177.5,167.9 173.8,165.9 170.1,163.7 166.3,161.2 164.7,160.3 163.1,159.2"/><polygon points="172.7,165.0 176.4,166.8 180.1,168.4 183.9,169.7 185.5,170.8 187.1,171.7 188.7,172.5 185.0,171.2 181.3,169.7 177.5,167.9 175.9,167.0 174.3,166.1"/><polygon points="183.9,169.7 187.6,170.9 191.3,171.7 195.0,172.4 196.7,173.4 198.3,174.2 199.9,175.0 196.2,174.4 192.5,173.6 188.7,172.5 187.1,171.7 185.5,170.8"/><polygon points="195.0,172.4 198.7,172.8 202.4,173.0 206.1,172.9 207.8,173.8 209.4,174.6 211.0,175.3 207.3,175.4 203.6,175.3 199.9,175.0 198.3,174.2 196.7,173.4"/><polygon points="206.1,172.9 209.8,172.6 213.5,172.1 217.2,171.3 218.8,172.2 220.4,172.9 222.1,173.6 218.4,174.4 214.7,175.0 211.0,175.3 209.4,174.6 207.8,173.8"/><polygon points="217.2,171.3 220.9,170.3 224.6,169.1 228.2,167.6 229.8,168.4 231.5,169.1 233.1,169.7 229.4,171.2 225.7,172.5 222.1,173.6 220.4,172.9 218.8,172.2"/><polygon points="228.2,167.6 231.9,165.9 235.5,163.9 239.2,161.8 240.8,162.5 242.4,163.1 244.1,163.7 240.4,165.9 236.8,167.9 233.1,169.7 231.5,169.1 229.8,168.4"/><polygon points="239.2,161.8 242.9,159.3 246.5,156.7 250.1,153.8 251.8,154.5 253.4,155.0 255.0,155.5 251.4,158.5 247.7,161.2 244.1,163.7 242.4,163.1 240.8,162.5"/><polygon points="250.1,153.8 253.8,150.6 257.4,147.3 261.0,143.7 262.6,144.3 264.3,144.8 265.9,145.2 262.2,148.9 258.6,152.3 255.0,155.5 253.4,155.0 251.8,154.5"/><polygon points="99.7,87.0 103.5,93.1 107.3,98.9 111.1,104.6 112.8,106.3 114.4,107.9 116.0,109.5 112.2,103.9 108.4,98.1 104.6,92.0 103.0,90.5 101.3,88.8"/><polygon points="111.1,104.6 114.9,110.0 118.7,115.1 122.5,120.0 124.2,121.7 125.8,123.3 127.5,124.8 123.7,119.9 119.8,114.8 116.0,109.5 114.4,107.9 112.8,106.3"/><polygon points="122.5,120.0 126.3,124.7 130.1,129.2 133.9,133.4 135.5,135.1 137.2,136.6 138.8,138.0 135.0,133.8 131.2,129.4 127.5,124.8 125.8,123.3 124.2,121.7"/><polygon points="133.9,133.4 137.7,137.4 141.5,141.2 145.2,144.7 146.9,146.3 148.5,147.8 150.1,149.1 146.4,145.6 142.6,141.9 138.8,138.0 137.2,136.6 135.5,135.1"/><polygon points="145.2,144.7 149.0,148.0 152.8,151.1 156.5,153.9 158.2,155.4 159.8,156.8 161.4,158.1 157.7,155.3 153.9,152.3 150.1,149.1 148.5,147.8 146.9,146.3"/><polygon points="156.5,153.9 160.3,156.5 164.0,158.8 167.8,160.9 169.4,162.4 171.0,163.7 172.7,165.0 168.9,162.9 165.2,160.6 161.4,158.1 159.8,156.8 158.2,155.4"/><polygon points="167.8,160.9 171.5,162.8 175.2,164.5 179.0,165.9 180.6,167.3 182.2,168.6 183.9,169.7 180.1,168.4 176.4,166.8 172.7,165.0 171.0,163.7 169.4,162.4"/><polygon points="179.0,165.9 182.7,167.1 186.4,168.0 190.1,168.7 191.8,170.1 193.4,171.3 195.0,172.4 191.3,171.7 187.6,170.9 183.9,169.7 182.2,168.6 180.6,167.3"/><polygon points="190.1,168.7 193.8,169.2 197.5,169.4 201.2,169.4 202.9,170.7 204.5,171.9 206.1,172.9 202.4,173.0 198.7,172.8 195.0,172.4 193.4,171.3 191.8,170.1"/><polygon points="201.2,169.4 204.9,169.2 208.6,168.7 212.3,168.0 213.9,169.2 215.6,170.3 217.2,171.3 213.5,172.1 209.8,172.6 206.1,172.9 204.5,171.9 202.9,170.7"/><polygon points="212.3,168.0 216.0,167.0 219.7,165.9 223.3,164.4 225.0,165.6 226.6,166.7 228.2,167.6 224.6,169.1 220.9,170.3 217.2,171.3 215.6,170.3 213.9,169.2"/><polygon points="223.3,164.4 227.0,162.8 230.7,160.9 234.3,158.8 236.0,159.9 237.6,160.9 239.2,161.8 235.5,163.9 231.9,165.9 228.2,167.6 226.6,166.7 225.0,165.6"/><polygon points="234.3,158.8 238.0,156.4 241.6,153.8 245.3,151.0 246.9,152.0 248.5,153.0 250.1,153.8 246.5,156.7 242.9,159.3 239.2,161.8 237.6,160.9 236.0,159.9"/><polygon points="245.3,151.0 248.9,147.9 252.5,144.6 256.1,141.1 257.8,142.0 259.4,142.9 261.0,143.7 257.4,147.3 253.8,150.6 250.1,153.8 248.5,153.0 246.9,152.0"/></g>
<rect x="36.3" y="17.6" width="70.6" height="30.7" fill="#fff" stroke="#b4b4b4" stroke-width="1"/>
<text x="4.4" y="28.9" font-size="18.7" font-weight="bold" fill="#f40b0b" stroke="#f40b0b" stroke-width="0.4" textLength="12.9" lengthAdjust="spacingAndGlyphs">A</text>
<text x="42.6" y="31.3" font-size="10.8" font-weight="normal" fill="#14142a" stroke="#14142a" stroke-width="0.42" textLength="57.6" lengthAdjust="spacingAndGlyphs">Hold Values</text>
<text x="37.5" y="45.5" font-size="10.8" font-weight="normal" fill="#14142a" stroke="#14142a" stroke-width="0.42" textLength="67.9" lengthAdjust="spacingAndGlyphs">Time (sec)&#160;&#160;60</text>
<text x="51.2" y="97.0" font-size="10.0" font-weight="bold" fill="#000" stroke="#000" stroke-width="0.3" textLength="18.4" lengthAdjust="spacingAndGlyphs">1.75</text>
<text x="51.6" y="116.3" font-size="10.0" font-weight="bold" fill="#000" stroke="#000" stroke-width="0.3" textLength="18.6" lengthAdjust="spacingAndGlyphs">1.50</text>
<text x="51.6" y="135.8" font-size="10.0" font-weight="bold" fill="#000" stroke="#000" stroke-width="0.3" textLength="18.6" lengthAdjust="spacingAndGlyphs">1.25</text>
<text x="52.7" y="156.2" font-size="10.0" font-weight="bold" fill="#000" stroke="#000" stroke-width="0.3" textLength="18.6" lengthAdjust="spacingAndGlyphs">1.00</text>
<text x="52.0" y="175.4" font-size="10.0" font-weight="bold" fill="#000" stroke="#000" stroke-width="0.3" textLength="18.9" lengthAdjust="spacingAndGlyphs">0.75</text>
<text x="52.7" y="195.4" font-size="10.0" font-weight="bold" fill="#000" stroke="#000" stroke-width="0.3" textLength="19.3" lengthAdjust="spacingAndGlyphs">0.50</text>
<text x="20.5" y="134.3" font-size="10.5" font-weight="bold" fill="#000" stroke="#000" stroke-width="0.3" textLength="16.9" lengthAdjust="spacingAndGlyphs">PDI</text>
<text x="78.6" y="219.0" font-size="10.0" font-weight="bold" fill="#000" stroke="#000" stroke-width="0.3" textLength="13.4" lengthAdjust="spacingAndGlyphs">5.0</text>
<text x="118.2" y="225.5" font-size="10.0" font-weight="bold" fill="#000" stroke="#000" stroke-width="0.3" textLength="12.7" lengthAdjust="spacingAndGlyphs">7.5</text>
<text x="154.4" y="232.3" font-size="10.0" font-weight="bold" fill="#000" stroke="#000" stroke-width="0.3" textLength="18.1" lengthAdjust="spacingAndGlyphs">10.0</text>
<text x="192.9" y="238.4" font-size="10.0" font-weight="bold" fill="#000" stroke="#000" stroke-width="0.3" textLength="18.4" lengthAdjust="spacingAndGlyphs">12.5</text>
<text x="232.5" y="244.9" font-size="10.0" font-weight="bold" fill="#000" stroke="#000" stroke-width="0.3" textLength="18.0" lengthAdjust="spacingAndGlyphs">15.0</text>
<text x="128.0" y="249.3" font-size="10.5" font-weight="bold" fill="#000" stroke="#000" stroke-width="0.3" textLength="37.3" lengthAdjust="spacingAndGlyphs">Smix %</text>
<text x="349.1" y="163.3" font-size="10.0" font-weight="bold" fill="#000" stroke="#000" stroke-width="0.3" textLength="11.1" lengthAdjust="spacingAndGlyphs">40</text>
<text x="332.1" y="181.1" font-size="10.0" font-weight="bold" fill="#000" stroke="#000" stroke-width="0.3" textLength="10.8" lengthAdjust="spacingAndGlyphs">35</text>
<text x="315.2" y="198.1" font-size="10.0" font-weight="bold" fill="#000" stroke="#000" stroke-width="0.3" textLength="11.1" lengthAdjust="spacingAndGlyphs">30</text>
<text x="298.8" y="215.6" font-size="10.0" font-weight="bold" fill="#000" stroke="#000" stroke-width="0.3" textLength="11.0" lengthAdjust="spacingAndGlyphs">25</text>
<text x="282.3" y="232.6" font-size="10.0" font-weight="bold" fill="#000" stroke="#000" stroke-width="0.3" textLength="10.6" lengthAdjust="spacingAndGlyphs">20</text>
<text x="335.6" y="205.5" font-size="10.5" font-weight="bold" fill="#000" stroke="#000" stroke-width="0.3" textLength="65.5" lengthAdjust="spacingAndGlyphs">Amplitude %</text>
<text x="19.8" y="275.0" font-size="18.2" font-weight="normal" fill="#000" stroke="#000" stroke-width="0.4" textLength="345.6" lengthAdjust="spacingAndGlyphs">Surface Plot of PDI vs Amplitude %, Smix %</text>
<g stroke="#bdbdbd" stroke-width="1" fill="none"><line x1="482.7" y1="196.7" x2="648.9" y2="225.2"/><line x1="648.9" y1="225.2" x2="718.2" y2="151.0"/><line x1="482.7" y1="196.7" x2="479.3" y2="79.6"/><line x1="479.3" y1="79.6" x2="550.3" y2="5.2"/><line x1="550.3" y1="5.2" x2="715.6" y2="33.1"/><line x1="715.6" y1="33.1" x2="718.2" y2="151.0"/><line x1="550.3" y1="5.2" x2="552.0" y2="122.5"/><line x1="482.7" y1="196.7" x2="552.0" y2="122.5"/><line x1="552.0" y1="122.5" x2="718.2" y2="151.0"/></g>
<g stroke="#bdbdbd" stroke-width="1"><line x1="490.7" y1="198.1" x2="487.6" y2="201.4"/><line x1="527.6" y1="204.4" x2="524.5" y2="207.7"/><line x1="564.5" y1="210.7" x2="561.4" y2="214.0"/><line x1="601.4" y1="217.0" x2="598.3" y2="220.3"/><line x1="638.3" y1="223.4" x2="635.2" y2="226.7"/></g><g stroke="#bdbdbd" stroke-width="1"><line x1="653.1" y1="220.7" x2="657.6" y2="220.7"/><line x1="668.3" y1="204.4" x2="672.8" y2="204.4"/><line x1="683.5" y1="188.1" x2="688.0" y2="188.1"/><line x1="698.8" y1="171.8" x2="703.3" y2="171.8"/><line x1="714.0" y1="155.5" x2="718.5" y2="155.5"/></g><g stroke="#bdbdbd" stroke-width="1"><line x1="482.6" y1="193.1" x2="478.1" y2="193.1"/><line x1="482.0" y1="172.8" x2="477.5" y2="172.8"/><line x1="481.4" y1="152.5" x2="476.9" y2="152.5"/><line x1="480.8" y1="132.3" x2="476.3" y2="132.3"/><line x1="480.2" y1="112.0" x2="475.7" y2="112.0"/><line x1="479.7" y1="91.7" x2="475.2" y2="91.7"/></g>
<g fill="#02c834" stroke="#000" stroke-width="0.68" stroke-linejoin="round"><polygon points="551.1,31.2 554.7,37.5 558.3,43.5 562.0,49.3 563.4,44.9 564.9,40.4 566.3,35.8 562.7,29.9 559.1,23.7 555.5,17.4 554.0,22.1 552.5,26.7"/><polygon points="562.0,49.3 565.6,54.9 569.2,60.2 572.8,65.3 574.3,61.0 575.7,56.5 577.2,52.0 573.6,46.8 569.9,41.4 566.3,35.8 564.9,40.4 563.4,44.9"/><polygon points="572.8,65.3 576.4,70.2 580.1,74.8 583.7,79.2 585.1,74.9 586.5,70.5 588.0,66.1 584.4,61.6 580.8,56.9 577.2,52.0 575.7,56.5 574.3,61.0"/><polygon points="583.7,79.2 587.3,83.3 590.9,87.2 594.5,90.8 595.9,86.6 597.3,82.4 598.8,78.0 595.2,74.3 591.6,70.3 588.0,66.1 586.5,70.5 585.1,74.9"/><polygon points="594.5,90.8 598.1,94.2 601.6,97.4 605.2,100.3 606.7,96.2 608.1,92.0 609.5,87.7 606.0,84.7 602.4,81.5 598.8,78.0 597.3,82.4 595.9,86.6"/><polygon points="605.2,100.3 608.8,103.0 612.4,105.4 616.0,107.6 617.4,103.6 618.8,99.5 620.3,95.3 616.7,93.0 613.1,90.5 609.5,87.7 608.1,92.0 606.7,96.2"/><polygon points="616.0,107.6 619.5,109.6 623.1,111.3 626.7,112.8 628.1,108.8 629.5,104.8 631.0,100.7 627.4,99.1 623.8,97.3 620.3,95.3 618.8,99.5 617.4,103.6"/><polygon points="626.7,112.8 630.2,114.0 633.8,115.0 637.3,115.7 638.8,111.9 640.2,107.9 641.6,103.9 638.1,103.0 634.5,102.0 631.0,100.7 629.5,104.8 628.1,108.8"/><polygon points="637.3,115.7 640.9,116.2 644.4,116.5 647.9,116.5 649.4,112.8 650.8,108.9 652.2,104.9 648.7,104.8 645.2,104.5 641.6,103.9 640.2,107.9 638.8,111.9"/><polygon points="647.9,116.5 651.5,116.3 655.0,115.8 658.5,115.1 659.9,111.4 661.4,107.6 662.8,103.7 659.3,104.4 655.8,104.8 652.2,104.9 650.8,108.9 649.4,112.8"/><polygon points="658.5,115.1 662.0,114.2 665.5,113.0 669.0,111.6 670.5,107.9 671.9,104.2 673.3,100.4 669.8,101.8 666.3,102.9 662.8,103.7 661.4,107.6 659.9,111.4"/><polygon points="669.0,111.6 672.5,109.9 676.0,108.0 679.5,105.8 680.9,102.3 682.4,98.6 683.8,94.9 680.3,97.0 676.8,98.8 673.3,100.4 671.9,104.2 670.5,107.9"/><polygon points="679.5,105.8 683.0,103.4 686.5,100.7 689.9,97.8 691.4,94.4 692.8,90.8 694.2,87.2 690.8,90.0 687.3,92.6 683.8,94.9 682.4,98.6 680.9,102.3"/><polygon points="689.9,97.8 693.4,94.7 696.8,91.3 700.3,87.7 701.7,84.3 703.2,80.8 704.6,77.3 701.1,80.8 697.7,84.1 694.2,87.2 692.8,90.8 691.4,94.4"/><polygon points="546.7,44.1 550.3,50.3 554.0,56.3 557.6,62.0 559.1,57.9 560.5,53.6 562.0,49.3 558.3,43.5 554.7,37.5 551.1,31.2 549.6,35.6 548.2,39.9"/><polygon points="557.6,62.0 561.2,67.5 564.9,72.7 568.5,77.8 569.9,73.7 571.4,69.6 572.8,65.3 569.2,60.2 565.6,54.9 562.0,49.3 560.5,53.6 559.1,57.9"/><polygon points="568.5,77.8 572.1,82.5 575.7,87.1 579.3,91.3 580.8,87.4 582.2,83.3 583.7,79.2 580.1,74.8 576.4,70.2 572.8,65.3 571.4,69.6 569.9,73.7"/><polygon points="579.3,91.3 582.9,95.4 586.5,99.2 590.1,102.8 591.6,98.9 593.0,94.9 594.5,90.8 590.9,87.2 587.3,83.3 583.7,79.2 582.2,83.3 580.8,87.4"/><polygon points="590.1,102.8 593.7,106.1 597.3,109.2 600.9,112.0 602.4,108.2 603.8,104.3 605.2,100.3 601.6,97.4 598.1,94.2 594.5,90.8 593.0,94.9 591.6,98.9"/><polygon points="600.9,112.0 604.5,114.6 608.1,117.0 611.7,119.1 613.1,115.4 614.5,111.6 616.0,107.6 612.4,105.4 608.8,103.0 605.2,100.3 603.8,104.3 602.4,108.2"/><polygon points="611.7,119.1 615.2,121.0 618.8,122.6 622.4,124.0 623.8,120.4 625.2,116.6 626.7,112.8 623.1,111.3 619.5,109.6 616.0,107.6 614.5,111.6 613.1,115.4"/><polygon points="622.4,124.0 625.9,125.1 629.5,126.1 633.0,126.7 634.4,123.2 635.9,119.5 637.3,115.7 633.8,115.0 630.2,114.0 626.7,112.8 625.2,116.6 623.8,120.4"/><polygon points="633.0,126.7 636.6,127.1 640.1,127.3 643.6,127.3 645.1,123.8 646.5,120.2 647.9,116.5 644.4,116.5 640.9,116.2 637.3,115.7 635.9,119.5 634.4,123.2"/><polygon points="643.6,127.3 647.1,127.0 650.7,126.4 654.2,125.6 655.6,122.2 657.1,118.7 658.5,115.1 655.0,115.8 651.5,116.3 647.9,116.5 646.5,120.2 645.1,123.8"/><polygon points="654.2,125.6 657.7,124.6 661.2,123.3 664.7,121.8 666.1,118.5 667.6,115.1 669.0,111.6 665.5,113.0 662.0,114.2 658.5,115.1 657.1,118.7 655.6,122.2"/><polygon points="664.7,121.8 668.2,120.1 671.7,118.0 675.2,115.8 676.6,112.6 678.1,109.2 679.5,105.8 676.0,108.0 672.5,109.9 669.0,111.6 667.6,115.1 666.1,118.5"/><polygon points="675.2,115.8 678.6,113.3 682.1,110.6 685.6,107.6 687.0,104.5 688.5,101.2 689.9,97.8 686.5,100.7 683.0,103.4 679.5,105.8 678.1,109.2 676.6,112.6"/><polygon points="685.6,107.6 689.0,104.4 692.5,100.9 695.9,97.2 697.4,94.2 698.8,91.0 700.3,87.7 696.8,91.3 693.4,94.7 689.9,97.8 688.5,101.2 687.0,104.5"/><polygon points="542.3,56.1 546.0,62.2 549.6,68.1 553.3,73.8 554.7,69.9 556.2,66.0 557.6,62.0 554.0,56.3 550.3,50.3 546.7,44.1 545.3,48.2 543.8,52.2"/><polygon points="553.3,73.8 556.9,79.2 560.5,84.4 564.1,89.3 565.6,85.5 567.0,81.7 568.5,77.8 564.9,72.7 561.2,67.5 557.6,62.0 556.2,66.0 554.7,69.9"/><polygon points="564.1,89.3 567.8,94.0 571.4,98.4 575.0,102.6 576.4,99.0 577.9,95.2 579.3,91.3 575.7,87.1 572.1,82.5 568.5,77.8 567.0,81.7 565.6,85.5"/><polygon points="575.0,102.6 578.6,106.6 582.2,110.3 585.8,113.8 587.3,110.2 588.7,106.5 590.1,102.8 586.5,99.2 582.9,95.4 579.3,91.3 577.9,95.2 576.4,99.0"/><polygon points="585.8,113.8 589.4,117.1 593.0,120.1 596.6,122.8 598.0,119.3 599.5,115.7 600.9,112.0 597.3,109.2 593.7,106.1 590.1,102.8 588.7,106.5 587.3,110.2"/><polygon points="596.6,122.8 600.2,125.3 603.8,127.6 607.3,129.7 608.8,126.2 610.2,122.7 611.7,119.1 608.1,117.0 604.5,114.6 600.9,112.0 599.5,115.7 598.0,119.3"/><polygon points="607.3,129.7 610.9,131.5 614.5,133.0 618.0,134.3 619.5,131.0 620.9,127.5 622.4,124.0 618.8,122.6 615.2,121.0 611.7,119.1 610.2,122.7 608.8,126.2"/><polygon points="618.0,134.3 621.6,135.4 625.1,136.2 628.7,136.8 630.1,133.5 631.6,130.2 633.0,126.7 629.5,126.1 625.9,125.1 622.4,124.0 620.9,127.5 619.5,131.0"/><polygon points="628.7,136.8 632.2,137.1 635.8,137.2 639.3,137.1 640.7,133.9 642.2,130.6 643.6,127.3 640.1,127.3 636.6,127.1 633.0,126.7 631.6,130.2 630.1,133.5"/><polygon points="639.3,137.1 642.8,136.7 646.3,136.1 649.9,135.2 651.3,132.1 652.7,128.9 654.2,125.6 650.7,126.4 647.1,127.0 643.6,127.3 642.2,130.6 640.7,133.9"/><polygon points="649.9,135.2 653.4,134.1 656.9,132.8 660.4,131.2 661.8,128.1 663.3,125.0 664.7,121.8 661.2,123.3 657.7,124.6 654.2,125.6 652.7,128.9 651.3,132.1"/><polygon points="660.4,131.2 663.9,129.3 667.3,127.2 670.8,124.9 672.3,122.0 673.7,118.9 675.2,115.8 671.7,118.0 668.2,120.1 664.7,121.8 663.3,125.0 661.8,128.1"/><polygon points="670.8,124.9 674.3,122.4 677.8,119.5 681.2,116.5 682.7,113.6 684.1,110.7 685.6,107.6 682.1,110.6 678.6,113.3 675.2,115.8 673.7,118.9 672.3,122.0"/><polygon points="681.2,116.5 684.7,113.2 688.1,109.7 691.6,105.9 693.0,103.1 694.5,100.2 695.9,97.2 692.5,100.9 689.0,104.4 685.6,107.6 684.1,110.7 682.7,113.6"/><polygon points="538.0,67.2 541.6,73.3 545.2,79.1 548.9,84.7 550.3,81.1 551.8,77.5 553.3,73.8 549.6,68.1 546.0,62.2 542.3,56.1 540.9,59.9 539.4,63.6"/><polygon points="548.9,84.7 552.5,90.0 556.2,95.1 559.8,99.9 561.2,96.5 562.7,92.9 564.1,89.3 560.5,84.4 556.9,79.2 553.3,73.8 551.8,77.5 550.3,81.1"/><polygon points="559.8,99.9 563.4,104.5 567.0,108.9 570.6,113.0 572.1,109.7 573.5,106.2 575.0,102.6 571.4,98.4 567.8,94.0 564.1,89.3 562.7,92.9 561.2,96.5"/><polygon points="570.6,113.0 574.3,116.9 577.9,120.6 581.5,124.0 582.9,120.7 584.4,117.3 585.8,113.8 582.2,110.3 578.6,106.6 575.0,102.6 573.5,106.2 572.1,109.7"/><polygon points="581.5,124.0 585.1,127.1 588.7,130.1 592.2,132.7 593.7,129.5 595.1,126.2 596.6,122.8 593.0,120.1 589.4,117.1 585.8,113.8 584.4,117.3 582.9,120.7"/><polygon points="592.2,132.7 595.8,135.2 599.4,137.4 603.0,139.3 604.4,136.2 605.9,133.0 607.3,129.7 603.8,127.6 600.2,125.3 596.6,122.8 595.1,126.2 593.7,129.5"/><polygon points="603.0,139.3 606.6,141.0 610.1,142.5 613.7,143.7 615.1,140.7 616.6,137.6 618.0,134.3 614.5,133.0 610.9,131.5 607.3,129.7 605.9,133.0 604.4,136.2"/><polygon points="613.7,143.7 617.2,144.7 620.8,145.5 624.3,146.0 625.8,143.0 627.2,140.0 628.7,136.8 625.1,136.2 621.6,135.4 618.0,134.3 616.6,137.6 615.1,140.7"/><polygon points="624.3,146.0 627.9,146.3 631.4,146.3 634.9,146.1 636.4,143.2 637.8,140.2 639.3,137.1 635.8,137.2 632.2,137.1 628.7,136.8 627.2,140.0 625.8,143.0"/><polygon points="634.9,146.1 638.5,145.6 642.0,144.9 645.5,143.9 647.0,141.1 648.4,138.2 649.9,135.2 646.3,136.1 642.8,136.7 639.3,137.1 637.8,140.2 636.4,143.2"/><polygon points="645.5,143.9 649.0,142.7 652.5,141.3 656.0,139.6 657.5,136.9 658.9,134.1 660.4,131.2 656.9,132.8 653.4,134.1 649.9,135.2 648.4,138.2 647.0,141.1"/><polygon points="656.0,139.6 659.5,137.7 663.0,135.6 666.5,133.1 667.9,130.5 669.4,127.8 670.8,124.9 667.3,127.2 663.9,129.3 660.4,131.2 658.9,134.1 657.5,136.9"/><polygon points="666.5,133.1 669.9,130.5 673.4,127.6 676.9,124.5 678.3,121.9 679.8,119.3 681.2,116.5 677.8,119.5 674.3,122.4 670.8,124.9 669.4,127.8 667.9,130.5"/><polygon points="676.9,124.5 680.3,121.1 683.8,117.5 687.2,113.6 688.7,111.1 690.1,108.6 691.6,105.9 688.1,109.7 684.7,113.2 681.2,116.5 679.8,119.3 678.3,121.9"/><polygon points="533.6,77.5 537.2,83.4 540.9,89.2 544.5,94.7 546.0,91.4 547.4,88.1 548.9,84.7 545.2,79.1 541.6,73.3 538.0,67.2 536.5,70.7 535.0,74.1"/><polygon points="544.5,94.7 548.2,99.9 551.8,104.9 555.4,109.7 556.9,106.5 558.3,103.3 559.8,99.9 556.2,95.1 552.5,90.0 548.9,84.7 547.4,88.1 546.0,91.4"/><polygon points="555.4,109.7 559.0,114.2 562.7,118.5 566.3,122.5 567.7,119.5 569.2,116.3 570.6,113.0 567.0,108.9 563.4,104.5 559.8,99.9 558.3,103.3 556.9,106.5"/><polygon points="566.3,122.5 569.9,126.4 573.5,129.9 577.1,133.2 578.6,130.3 580.0,127.2 581.5,124.0 577.9,120.6 574.3,116.9 570.6,113.0 569.2,116.3 567.7,119.5"/><polygon points="577.1,133.2 580.7,136.3 584.3,139.2 587.9,141.8 589.3,138.9 590.8,135.8 592.2,132.7 588.7,130.1 585.1,127.1 581.5,124.0 580.0,127.2 578.6,130.3"/><polygon points="587.9,141.8 591.5,144.1 595.1,146.2 598.6,148.1 600.1,145.3 601.5,142.4 603.0,139.3 599.4,137.4 595.8,135.2 592.2,132.7 590.8,135.8 589.3,138.9"/><polygon points="598.6,148.1 602.2,149.7 605.8,151.1 609.3,152.3 610.8,149.5 612.2,146.7 613.7,143.7 610.1,142.5 606.6,141.0 603.0,139.3 601.5,142.4 600.1,145.3"/><polygon points="609.3,152.3 612.9,153.2 616.4,153.9 620.0,154.3 621.4,151.6 622.9,148.9 624.3,146.0 620.8,145.5 617.2,144.7 613.7,143.7 612.2,146.7 610.8,149.5"/><polygon points="620.0,154.3 623.5,154.5 627.1,154.4 630.6,154.1 632.0,151.5 633.5,148.8 634.9,146.1 631.4,146.3 627.9,146.3 624.3,146.0 622.9,148.9 621.4,151.6"/><polygon points="630.6,154.1 634.1,153.6 637.6,152.8 641.1,151.7 642.6,149.2 644.1,146.6 645.5,143.9 642.0,144.9 638.5,145.6 634.9,146.1 633.5,148.8 632.0,151.5"/><polygon points="641.1,151.7 644.6,150.5 648.1,149.0 651.6,147.2 653.1,144.8 654.6,142.3 656.0,139.6 652.5,141.3 649.0,142.7 645.5,143.9 644.1,146.6 642.6,149.2"/><polygon points="651.6,147.2 655.1,145.2 658.6,143.0 662.1,140.5 663.6,138.1 665.0,135.7 666.5,133.1 663.0,135.6 659.5,137.7 656.0,139.6 654.6,142.3 653.1,144.8"/><polygon points="662.1,140.5 665.6,137.7 669.0,134.8 672.5,131.6 673.9,129.3 675.4,126.9 676.9,124.5 673.4,127.6 669.9,130.5 666.5,133.1 665.0,135.7 663.6,138.1"/><polygon points="672.5,131.6 675.9,128.1 679.4,124.4 682.8,120.5 684.3,118.3 685.8,116.0 687.2,113.6 683.8,117.5 680.3,121.1 676.9,124.5 675.4,126.9 673.9,129.3"/><polygon points="529.2,86.8 532.8,92.7 536.5,98.3 540.1,103.8 541.6,100.8 543.1,97.8 544.5,94.7 540.9,89.2 537.2,83.4 533.6,77.5 532.1,80.7 530.6,83.8"/><polygon points="540.1,103.8 543.8,108.9 547.4,113.9 551.0,118.5 552.5,115.7 554.0,112.7 555.4,109.7 551.8,104.9 548.2,99.9 544.5,94.7 543.1,97.8 541.6,100.8"/><polygon points="551.0,118.5 554.7,123.0 558.3,127.2 561.9,131.2 563.4,128.4 564.8,125.5 566.3,122.5 562.7,118.5 559.0,114.2 555.4,109.7 554.0,112.7 552.5,115.7"/><polygon points="561.9,131.2 565.5,134.9 569.1,138.4 572.7,141.6 574.2,138.9 575.7,136.1 577.1,133.2 573.5,129.9 569.9,126.4 566.3,122.5 564.8,125.5 563.4,128.4"/><polygon points="572.7,141.6 576.3,144.6 579.9,147.4 583.5,149.9 585.0,147.3 586.4,144.6 587.9,141.8 584.3,139.2 580.7,136.3 577.1,133.2 575.7,136.1 574.2,138.9"/><polygon points="583.5,149.9 587.1,152.2 590.7,154.2 594.3,156.0 595.7,153.5 597.2,150.8 598.6,148.1 595.1,146.2 591.5,144.1 587.9,141.8 586.4,144.6 585.0,147.3"/><polygon points="594.3,156.0 597.8,157.5 601.4,158.9 605.0,159.9 606.4,157.5 607.9,154.9 609.3,152.3 605.8,151.1 602.2,149.7 598.6,148.1 597.2,150.8 595.7,153.5"/><polygon points="605.0,159.9 608.5,160.8 612.1,161.3 615.6,161.7 617.1,159.3 618.5,156.9 620.0,154.3 616.4,153.9 612.9,153.2 609.3,152.3 607.9,154.9 606.4,157.5"/><polygon points="615.6,161.7 619.2,161.8 622.7,161.6 626.2,161.3 627.7,159.0 629.1,156.6 630.6,154.1 627.1,154.4 623.5,154.5 620.0,154.3 618.5,156.9 617.1,159.3"/><polygon points="626.2,161.3 629.7,160.6 633.2,159.8 636.8,158.7 638.2,156.5 639.7,154.1 641.1,151.7 637.6,152.8 634.1,153.6 630.6,154.1 629.1,156.6 627.7,159.0"/><polygon points="636.8,158.7 640.3,157.3 643.8,155.7 647.2,153.9 648.7,151.7 650.2,149.5 651.6,147.2 648.1,149.0 644.6,150.5 641.1,151.7 639.7,154.1 638.2,156.5"/><polygon points="647.2,153.9 650.7,151.8 654.2,149.5 657.7,146.9 659.2,144.9 660.6,142.7 662.1,140.5 658.6,143.0 655.1,145.2 651.6,147.2 650.2,149.5 648.7,151.7"/><polygon points="657.7,146.9 661.2,144.1 664.6,141.0 668.1,137.8 669.6,135.8 671.0,133.7 672.5,131.6 669.0,134.8 665.6,137.7 662.1,140.5 660.6,142.7 659.2,144.9"/><polygon points="668.1,137.8 671.5,134.2 675.0,130.4 678.4,126.4 679.9,124.5 681.4,122.5 682.8,120.5 679.4,124.4 675.9,128.1 672.5,131.6 671.0,133.7 669.6,135.8"/><polygon points="524.8,95.3 528.4,101.1 532.1,106.6 535.7,112.0 537.2,109.3 538.7,106.6 540.1,103.8 536.5,98.3 532.8,92.7 529.2,86.8 527.7,89.7 526.2,92.5"/><polygon points="535.7,112.0 539.4,117.1 543.0,121.9 546.7,126.5 548.1,124.0 549.6,121.3 551.0,118.5 547.4,113.9 543.8,108.9 540.1,103.8 538.7,106.6 537.2,109.3"/><polygon points="546.7,126.5 550.3,130.9 553.9,135.0 557.5,138.9 559.0,136.4 560.5,133.8 561.9,131.2 558.3,127.2 554.7,123.0 551.0,118.5 549.6,121.3 548.1,124.0"/><polygon points="557.5,138.9 561.2,142.5 564.8,145.9 568.4,149.1 569.8,146.7 571.3,144.2 572.7,141.6 569.1,138.4 565.5,134.9 561.9,131.2 560.5,133.8 559.0,136.4"/><polygon points="568.4,149.1 572.0,152.0 575.6,154.7 579.2,157.1 580.6,154.8 582.1,152.4 583.5,149.9 579.9,147.4 576.3,144.6 572.7,141.6 571.3,144.2 569.8,146.7"/><polygon points="579.2,157.1 582.7,159.3 586.3,161.3 589.9,163.0 591.4,160.8 592.8,158.4 594.3,156.0 590.7,154.2 587.1,152.2 583.5,149.9 582.1,152.4 580.6,154.8"/><polygon points="589.9,163.0 593.5,164.5 597.0,165.7 600.6,166.7 602.0,164.5 603.5,162.3 605.0,159.9 601.4,158.9 597.8,157.5 594.3,156.0 592.8,158.4 591.4,160.8"/><polygon points="600.6,166.7 604.1,167.4 607.7,167.9 611.2,168.2 612.7,166.1 614.2,164.0 615.6,161.7 612.1,161.3 608.5,160.8 605.0,159.9 603.5,162.3 602.0,164.5"/><polygon points="611.2,168.2 614.8,168.2 618.3,168.0 621.8,167.5 623.3,165.5 624.7,163.4 626.2,161.3 622.7,161.6 619.2,161.8 615.6,161.7 614.2,164.0 612.7,166.1"/><polygon points="621.8,167.5 625.3,166.8 628.8,165.9 632.4,164.7 633.8,162.8 635.3,160.8 636.8,158.7 633.2,159.8 629.7,160.6 626.2,161.3 624.7,163.4 623.3,165.5"/><polygon points="632.4,164.7 635.9,163.2 639.4,161.6 642.8,159.7 644.3,157.8 645.8,155.9 647.2,153.9 643.8,155.7 640.3,157.3 636.8,158.7 635.3,160.8 633.8,162.8"/><polygon points="642.8,159.7 646.3,157.5 649.8,155.1 653.3,152.4 654.7,150.7 656.2,148.9 657.7,146.9 654.2,149.5 650.7,151.8 647.2,153.9 645.8,155.9 644.3,157.8"/><polygon points="653.3,152.4 656.7,149.6 660.2,146.4 663.7,143.0 665.1,141.4 666.6,139.6 668.1,137.8 664.6,141.0 661.2,144.1 657.7,146.9 656.2,148.9 654.7,150.7"/><polygon points="663.7,143.0 667.1,139.4 670.5,135.6 674.0,131.5 675.5,129.9 676.9,128.2 678.4,126.4 675.0,130.4 671.5,134.2 668.1,137.8 666.6,139.6 665.1,141.4"/><polygon points="520.3,102.8 524.0,108.5 527.7,114.0 531.3,119.3 532.8,116.9 534.3,114.5 535.7,112.0 532.1,106.6 528.4,101.1 524.8,95.3 523.3,97.9 521.8,100.4"/><polygon points="531.3,119.3 535.0,124.3 538.6,129.1 542.3,133.6 543.7,131.3 545.2,129.0 546.7,126.5 543.0,121.9 539.4,117.1 535.7,112.0 534.3,114.5 532.8,116.9"/><polygon points="542.3,133.6 545.9,137.9 549.5,141.9 553.1,145.7 554.6,143.5 556.1,141.3 557.5,138.9 553.9,135.0 550.3,130.9 546.7,126.5 545.2,129.0 543.7,131.3"/><polygon points="553.1,145.7 556.8,149.3 560.4,152.6 564.0,155.7 565.4,153.6 566.9,151.4 568.4,149.1 564.8,145.9 561.2,142.5 557.5,138.9 556.1,141.3 554.6,143.5"/><polygon points="564.0,155.7 567.6,158.5 571.2,161.1 574.8,163.5 576.2,161.5 577.7,159.3 579.2,157.1 575.6,154.7 572.0,152.0 568.4,149.1 566.9,151.4 565.4,153.6"/><polygon points="574.8,163.5 578.3,165.6 581.9,167.5 585.5,169.1 587.0,167.2 588.4,165.1 589.9,163.0 586.3,161.3 582.7,159.3 579.2,157.1 577.7,159.3 576.2,161.5"/><polygon points="585.5,169.1 589.1,170.5 592.6,171.6 596.2,172.5 597.6,170.7 599.1,168.7 600.6,166.7 597.0,165.7 593.5,164.5 589.9,163.0 588.4,165.1 587.0,167.2"/><polygon points="596.2,172.5 599.7,173.2 603.3,173.6 606.8,173.8 608.3,172.0 609.8,170.2 611.2,168.2 607.7,167.9 604.1,167.4 600.6,166.7 599.1,168.7 597.6,170.7"/><polygon points="606.8,173.8 610.3,173.7 613.9,173.4 617.4,172.9 618.9,171.2 620.3,169.4 621.8,167.5 618.3,168.0 614.8,168.2 611.2,168.2 609.8,170.2 608.3,172.0"/><polygon points="617.4,172.9 620.9,172.1 624.4,171.1 627.9,169.8 629.4,168.2 630.9,166.5 632.4,164.7 628.8,165.9 625.3,166.8 621.8,167.5 620.3,169.4 618.9,171.2"/><polygon points="627.9,169.8 631.4,168.3 634.9,166.5 638.4,164.5 639.9,163.0 641.4,161.4 642.8,159.7 639.4,161.6 635.9,163.2 632.4,164.7 630.9,166.5 629.4,168.2"/><polygon points="638.4,164.5 641.9,162.3 645.4,159.8 648.8,157.1 650.3,155.6 651.8,154.1 653.3,152.4 649.8,155.1 646.3,157.5 642.8,159.7 641.4,161.4 639.9,163.0"/><polygon points="648.8,157.1 652.3,154.1 655.8,150.9 659.2,147.5 660.7,146.1 662.2,144.6 663.7,143.0 660.2,146.4 656.7,149.6 653.3,152.4 651.8,154.1 650.3,155.6"/><polygon points="659.2,147.5 662.7,143.8 666.1,139.8 669.5,135.6 671.0,134.3 672.5,133.0 674.0,131.5 670.5,135.6 667.1,139.4 663.7,143.0 662.2,144.6 660.7,146.1"/><polygon points="515.9,109.5 519.6,115.1 523.2,120.5 526.9,125.7 528.4,123.7 529.9,121.5 531.3,119.3 527.7,114.0 524.0,108.5 520.3,102.8 518.9,105.1 517.4,107.4"/><polygon points="526.9,125.7 530.6,130.6 534.2,135.3 537.8,139.8 539.3,137.8 540.8,135.7 542.3,133.6 538.6,129.1 535.0,124.3 531.3,119.3 529.9,121.5 528.4,123.7"/><polygon points="537.8,139.8 541.5,144.0 545.1,147.9 548.7,151.7 550.2,149.8 551.7,147.8 553.1,145.7 549.5,141.9 545.9,137.9 542.3,133.6 540.8,135.7 539.3,137.8"/><polygon points="548.7,151.7 552.3,155.1 556.0,158.4 559.6,161.4 561.0,159.6 562.5,157.7 564.0,155.7 560.4,152.6 556.8,149.3 553.1,145.7 551.7,147.8 550.2,149.8"/><polygon points="559.6,161.4 563.2,164.1 566.8,166.6 570.3,168.9 571.8,167.2 573.3,165.4 574.8,163.5 571.2,161.1 567.6,158.5 564.0,155.7 562.5,157.7 561.0,159.6"/><polygon points="570.3,168.9 573.9,171.0 577.5,172.7 581.1,174.3 582.6,172.7 584.0,170.9 585.5,169.1 581.9,167.5 578.3,165.6 574.8,163.5 573.3,165.4 571.8,167.2"/><polygon points="581.1,174.3 584.6,175.6 588.2,176.7 591.8,177.5 593.2,175.9 594.7,174.3 596.2,172.5 592.6,171.6 589.1,170.5 585.5,169.1 584.0,170.9 582.6,172.7"/><polygon points="591.8,177.5 595.3,178.1 598.8,178.4 602.4,178.5 603.9,177.1 605.3,175.5 606.8,173.8 603.3,173.6 599.7,173.2 596.2,172.5 594.7,174.3 593.2,175.9"/><polygon points="602.4,178.5 605.9,178.4 609.4,178.0 613.0,177.4 614.4,176.0 615.9,174.5 617.4,172.9 613.9,173.4 610.3,173.7 606.8,173.8 605.3,175.5 603.9,177.1"/><polygon points="613.0,177.4 616.5,176.5 620.0,175.4 623.5,174.0 625.0,172.7 626.5,171.3 627.9,169.8 624.4,171.1 620.9,172.1 617.4,172.9 615.9,174.5 614.4,176.0"/><polygon points="623.5,174.0 627.0,172.5 630.5,170.6 634.0,168.5 635.4,167.3 636.9,166.0 638.4,164.5 634.9,166.5 631.4,168.3 627.9,169.8 626.5,171.3 625.0,172.7"/><polygon points="634.0,168.5 637.4,166.2 640.9,163.6 644.4,160.8 645.9,159.7 647.4,158.4 648.8,157.1 645.4,159.8 641.9,162.3 638.4,164.5 636.9,166.0 635.4,167.3"/><polygon points="644.4,160.8 647.8,157.8 651.3,154.5 654.7,151.0 656.2,149.9 657.7,148.7 659.2,147.5 655.8,150.9 652.3,154.1 648.8,157.1 647.4,158.4 645.9,159.7"/><polygon points="654.7,151.0 658.2,147.2 661.6,143.2 665.1,138.9 666.5,137.9 668.0,136.8 669.5,135.6 666.1,139.8 662.7,143.8 659.2,147.5 657.7,148.7 656.2,149.9"/><polygon points="511.5,115.3 515.1,120.8 518.8,126.2 522.5,131.2 523.9,129.5 525.4,127.7 526.9,125.7 523.2,120.5 519.6,115.1 515.9,109.5 514.4,111.5 512.9,113.4"/><polygon points="522.5,131.2 526.1,136.1 529.8,140.7 533.4,145.1 534.9,143.4 536.4,141.6 537.8,139.8 534.2,135.3 530.6,130.6 526.9,125.7 525.4,127.7 523.9,129.5"/><polygon points="533.4,145.1 537.0,149.2 540.7,153.1 544.3,156.7 545.8,155.1 547.2,153.4 548.7,151.7 545.1,147.9 541.5,144.0 537.8,139.8 536.4,141.6 534.9,143.4"/><polygon points="544.3,156.7 547.9,160.1 551.5,163.3 555.1,166.2 556.6,164.7 558.1,163.1 559.6,161.4 556.0,158.4 552.3,155.1 548.7,151.7 547.2,153.4 545.8,155.1"/><polygon points="555.1,166.2 558.7,168.9 562.3,171.3 565.9,173.5 567.4,172.1 568.9,170.5 570.3,168.9 566.8,166.6 563.2,164.1 559.6,161.4 558.1,163.1 556.6,164.7"/><polygon points="565.9,173.5 569.5,175.4 573.1,177.1 576.6,178.6 578.1,177.3 579.6,175.8 581.1,174.3 577.5,172.7 573.9,171.0 570.3,168.9 568.9,170.5 567.4,172.1"/><polygon points="576.6,178.6 580.2,179.8 583.8,180.8 587.3,181.6 588.8,180.3 590.3,179.0 591.8,177.5 588.2,176.7 584.6,175.6 581.1,174.3 579.6,175.8 578.1,177.3"/><polygon points="587.3,181.6 590.9,182.1 594.4,182.3 597.9,182.4 599.4,181.2 600.9,179.9 602.4,178.5 598.8,178.4 595.3,178.1 591.8,177.5 590.3,179.0 588.8,180.3"/><polygon points="597.9,182.4 601.5,182.1 605.0,181.7 608.5,181.0 610.0,179.9 611.5,178.7 613.0,177.4 609.4,178.0 605.9,178.4 602.4,178.5 600.9,179.9 599.4,181.2"/><polygon points="608.5,181.0 612.0,180.0 615.5,178.8 619.0,177.4 620.5,176.4 622.0,175.3 623.5,174.0 620.0,175.4 616.5,176.5 613.0,177.4 611.5,178.7 610.0,179.9"/><polygon points="619.0,177.4 622.5,175.7 626.0,173.8 629.5,171.6 631.0,170.7 632.5,169.7 634.0,168.5 630.5,170.6 627.0,172.5 623.5,174.0 622.0,175.3 620.5,176.4"/><polygon points="629.5,171.6 633.0,169.2 636.4,166.6 639.9,163.7 641.4,162.8 642.9,161.9 644.4,160.8 640.9,163.6 637.4,166.2 634.0,168.5 632.5,169.7 631.0,170.7"/><polygon points="639.9,163.7 643.4,160.6 646.8,157.2 650.3,153.6 651.8,152.8 653.2,151.9 654.7,151.0 651.3,154.5 647.8,157.8 644.4,160.8 642.9,161.9 641.4,162.8"/><polygon points="650.3,153.6 653.7,149.7 657.1,145.6 660.6,141.3 662.1,140.6 663.6,139.8 665.1,138.9 661.6,143.2 658.2,147.2 654.7,151.0 653.2,151.9 651.8,152.8"/><polygon points="507.0,120.2 510.7,125.6 514.3,130.9 518.0,135.9 519.5,134.4 521.0,132.9 522.5,131.2 518.8,126.2 515.1,120.8 511.5,115.3 510.0,117.0 508.5,118.6"/><polygon points="518.0,135.9 521.6,140.7 525.3,145.2 528.9,149.5 530.4,148.1 531.9,146.6 533.4,145.1 529.8,140.7 526.1,136.1 522.5,131.2 521.0,132.9 519.5,134.4"/><polygon points="528.9,149.5 532.6,153.5 536.2,157.3 539.8,160.9 541.3,159.6 542.8,158.2 544.3,156.7 540.7,153.1 537.0,149.2 533.4,145.1 531.9,146.6 530.4,148.1"/><polygon points="539.8,160.9 543.4,164.2 547.1,167.3 550.7,170.1 552.2,168.9 553.6,167.6 555.1,166.2 551.5,163.3 547.9,160.1 544.3,156.7 542.8,158.2 541.3,159.6"/><polygon points="550.7,170.1 554.3,172.7 557.9,175.0 561.4,177.2 562.9,176.0 564.4,174.8 565.9,173.5 562.3,171.3 558.7,168.9 555.1,166.2 553.6,167.6 552.2,168.9"/><polygon points="561.4,177.2 565.0,179.0 568.6,180.7 572.2,182.0 573.7,181.0 575.1,179.9 576.6,178.6 573.1,177.1 569.5,175.4 565.9,173.5 564.4,174.8 562.9,176.0"/><polygon points="572.2,182.0 575.7,183.2 579.3,184.1 582.8,184.8 584.3,183.8 585.8,182.7 587.3,181.6 583.8,180.8 580.2,179.8 576.6,178.6 575.1,179.9 573.7,181.0"/><polygon points="582.8,184.8 586.4,185.2 589.9,185.4 593.5,185.3 595.0,184.4 596.4,183.4 597.9,182.4 594.4,182.3 590.9,182.1 587.3,181.6 585.8,182.7 584.3,183.8"/><polygon points="593.5,185.3 597.0,185.0 600.5,184.4 604.0,183.7 605.5,182.9 607.0,182.0 608.5,181.0 605.0,181.7 601.5,182.1 597.9,182.4 596.4,183.4 595.0,184.4"/><polygon points="604.0,183.7 607.5,182.6 611.0,181.4 614.5,179.8 616.0,179.1 617.5,178.3 619.0,177.4 615.5,178.8 612.0,180.0 608.5,181.0 607.0,182.0 605.5,182.9"/><polygon points="614.5,179.8 618.0,178.1 621.5,176.1 625.0,173.8 626.5,173.2 628.0,172.5 629.5,171.6 626.0,173.8 622.5,175.7 619.0,177.4 617.5,178.3 616.0,179.1"/><polygon points="625.0,173.8 628.5,171.4 631.9,168.6 635.4,165.7 636.9,165.1 638.4,164.5 639.9,163.7 636.4,166.6 633.0,169.2 629.5,171.6 628.0,172.5 626.5,173.2"/><polygon points="635.4,165.7 638.8,162.5 642.3,159.0 645.7,155.3 647.2,154.8 648.7,154.3 650.3,153.6 646.8,157.2 643.4,160.6 639.9,163.7 638.4,164.5 636.9,165.1"/><polygon points="645.7,155.3 649.2,151.4 652.6,147.2 656.0,142.8 657.5,142.4 659.1,141.9 660.6,141.3 657.1,145.6 653.7,149.7 650.3,153.6 648.7,154.3 647.2,154.8"/><polygon points="502.5,124.2 506.2,129.6 509.8,134.7 513.5,139.7 515.0,138.5 516.5,137.2 518.0,135.9 514.3,130.9 510.7,125.6 507.0,120.2 505.5,121.6 504.0,122.9"/><polygon points="513.5,139.7 517.2,144.3 520.8,148.8 524.5,153.0 525.9,151.9 527.4,150.7 528.9,149.5 525.3,145.2 521.6,140.7 518.0,135.9 516.5,137.2 515.0,138.5"/><polygon points="524.5,153.0 528.1,156.9 531.7,160.7 535.3,164.1 536.8,163.1 538.3,162.1 539.8,160.9 536.2,157.3 532.6,153.5 528.9,149.5 527.4,150.7 525.9,151.9"/><polygon points="535.3,164.1 539.0,167.4 542.6,170.4 546.2,173.1 547.7,172.2 549.2,171.2 550.7,170.1 547.1,167.3 543.4,164.2 539.8,160.9 538.3,162.1 536.8,163.1"/><polygon points="546.2,173.1 549.8,175.6 553.4,177.9 557.0,179.9 558.5,179.1 560.0,178.2 561.4,177.2 557.9,175.0 554.3,172.7 550.7,170.1 549.2,171.2 547.7,172.2"/><polygon points="557.0,179.9 560.5,181.7 564.1,183.3 567.7,184.6 569.2,183.8 570.7,183.0 572.2,182.0 568.6,180.7 565.0,179.0 561.4,177.2 560.0,178.2 558.5,179.1"/><polygon points="567.7,184.6 571.2,185.6 574.8,186.5 578.4,187.0 579.9,186.4 581.3,185.6 582.8,184.8 579.3,184.1 575.7,183.2 572.2,182.0 570.7,183.0 569.2,183.8"/><polygon points="578.4,187.0 581.9,187.4 585.4,187.5 589.0,187.3 590.5,186.8 592.0,186.1 593.5,185.3 589.9,185.4 586.4,185.2 582.8,184.8 581.3,185.6 579.9,186.4"/><polygon points="589.0,187.3 592.5,187.0 596.0,186.3 599.5,185.5 601.0,185.0 602.5,184.4 604.0,183.7 600.5,184.4 597.0,185.0 593.5,185.3 592.0,186.1 590.5,186.8"/><polygon points="599.5,185.5 603.0,184.4 606.5,183.0 610.0,181.4 611.5,181.0 613.0,180.5 614.5,179.8 611.0,181.4 607.5,182.6 604.0,183.7 602.5,184.4 601.0,185.0"/><polygon points="610.0,181.4 613.5,179.6 617.0,177.5 620.5,175.2 622.0,174.8 623.5,174.4 625.0,173.8 621.5,176.1 618.0,178.1 614.5,179.8 613.0,180.5 611.5,181.0"/><polygon points="620.5,175.2 623.9,172.6 627.4,169.8 630.9,166.7 632.4,166.5 633.9,166.1 635.4,165.7 631.9,168.6 628.5,171.4 625.0,173.8 623.5,174.4 622.0,174.8"/><polygon points="630.9,166.7 634.3,163.5 637.8,159.9 641.2,156.1 642.7,156.0 644.2,155.7 645.7,155.3 642.3,159.0 638.8,162.5 635.4,165.7 633.9,166.1 632.4,166.5"/><polygon points="641.2,156.1 644.6,152.1 648.1,147.9 651.5,143.4 653.0,143.3 654.5,143.1 656.0,142.8 652.6,147.2 649.2,151.4 645.7,155.3 644.2,155.7 642.7,156.0"/><polygon points="498.0,127.3 501.6,132.6 505.3,137.7 509.0,142.5 510.5,141.7 512.0,140.7 513.5,139.7 509.8,134.7 506.2,129.6 502.5,124.2 501.0,125.3 499.5,126.3"/><polygon points="509.0,142.5 512.6,147.1 516.3,151.5 519.9,155.6 521.4,154.8 523.0,153.9 524.5,153.0 520.8,148.8 517.2,144.3 513.5,139.7 512.0,140.7 510.5,141.7"/><polygon points="519.9,155.6 523.6,159.5 527.2,163.1 530.8,166.5 532.3,165.8 533.8,165.0 535.3,164.1 531.7,160.7 528.1,156.9 524.5,153.0 523.0,153.9 521.4,154.8"/><polygon points="530.8,166.5 534.5,169.7 538.1,172.6 541.7,175.3 543.2,174.6 544.7,173.9 546.2,173.1 542.6,170.4 539.0,167.4 535.3,164.1 533.8,165.0 532.3,165.8"/><polygon points="541.7,175.3 545.3,177.7 548.9,179.9 552.5,181.8 554.0,181.3 555.5,180.7 557.0,179.9 553.4,177.9 549.8,175.6 546.2,173.1 544.7,173.9 543.2,174.6"/><polygon points="552.5,181.8 556.0,183.5 559.6,185.0 563.2,186.2 564.7,185.8 566.2,185.2 567.7,184.6 564.1,183.3 560.5,181.7 557.0,179.9 555.5,180.7 554.0,181.3"/><polygon points="563.2,186.2 566.7,187.2 570.3,187.9 573.8,188.5 575.3,188.1 576.8,187.6 578.4,187.0 574.8,186.5 571.2,185.6 567.7,184.6 566.2,185.2 564.7,185.8"/><polygon points="573.8,188.5 577.4,188.7 580.9,188.7 584.4,188.5 585.9,188.2 587.5,187.8 589.0,187.3 585.4,187.5 581.9,187.4 578.4,187.0 576.8,187.6 575.3,188.1"/><polygon points="584.4,188.5 588.0,188.0 591.5,187.3 595.0,186.4 596.5,186.2 598.0,185.9 599.5,185.5 596.0,186.3 592.5,187.0 589.0,187.3 587.5,187.8 585.9,188.2"/><polygon points="595.0,186.4 598.5,185.2 602.0,183.8 605.5,182.1 607.0,182.0 608.5,181.7 610.0,181.4 606.5,183.0 603.0,184.4 599.5,185.5 598.0,185.9 596.5,186.2"/><polygon points="605.5,182.1 609.0,180.2 612.4,178.0 615.9,175.6 617.4,175.6 619.0,175.4 620.5,175.2 617.0,177.5 613.5,179.6 610.0,181.4 608.5,181.7 607.0,182.0"/><polygon points="615.9,175.6 619.4,173.0 622.8,170.1 626.3,166.9 627.8,167.0 629.3,166.9 630.9,166.7 627.4,169.8 623.9,172.6 620.5,175.2 619.0,175.4 617.4,175.6"/><polygon points="626.3,166.9 629.8,163.6 633.2,159.9 636.6,156.1 638.2,156.2 639.7,156.2 641.2,156.1 637.8,159.9 634.3,163.5 630.9,166.7 629.3,166.9 627.8,167.0"/><polygon points="636.6,156.1 640.1,152.0 643.5,147.6 646.9,143.1 648.4,143.3 650.0,143.4 651.5,143.4 648.1,147.9 644.6,152.1 641.2,156.1 639.7,156.2 638.2,156.2"/><polygon points="493.4,129.5 497.1,134.7 500.8,139.7 504.4,144.5 506.0,143.9 507.5,143.3 509.0,142.5 505.3,137.7 501.6,132.6 498.0,127.3 496.4,128.1 494.9,128.9"/><polygon points="504.4,144.5 508.1,149.0 511.8,153.3 515.4,157.3 516.9,156.9 518.4,156.3 519.9,155.6 516.3,151.5 512.6,147.1 509.0,142.5 507.5,143.3 506.0,143.9"/><polygon points="515.4,157.3 519.0,161.1 522.7,164.7 526.3,168.0 527.8,167.6 529.3,167.1 530.8,166.5 527.2,163.1 523.6,159.5 519.9,155.6 518.4,156.3 516.9,156.9"/><polygon points="526.3,168.0 529.9,171.1 533.5,173.9 537.1,176.5 538.7,176.2 540.2,175.8 541.7,175.3 538.1,172.6 534.5,169.7 530.8,166.5 529.3,167.1 527.8,167.6"/><polygon points="537.1,176.5 540.7,178.8 544.3,181.0 547.9,182.8 549.4,182.6 550.9,182.3 552.5,181.8 548.9,179.9 545.3,177.7 541.7,175.3 540.2,175.8 538.7,176.2"/><polygon points="547.9,182.8 551.5,184.4 555.1,185.8 558.6,187.0 560.1,186.8 561.7,186.6 563.2,186.2 559.6,185.0 556.0,183.5 552.5,181.8 550.9,182.3 549.4,182.6"/><polygon points="558.6,187.0 562.2,187.9 565.7,188.5 569.3,189.0 570.8,188.9 572.3,188.7 573.8,188.5 570.3,187.9 566.7,187.2 563.2,186.2 561.7,186.6 560.1,186.8"/><polygon points="569.3,189.0 572.8,189.1 576.4,189.1 579.9,188.8 581.4,188.8 582.9,188.7 584.4,188.5 580.9,188.7 577.4,188.7 573.8,188.5 572.3,188.7 570.8,188.9"/><polygon points="579.9,188.8 583.4,188.2 586.9,187.4 590.4,186.4 591.9,186.5 593.5,186.5 595.0,186.4 591.5,187.3 588.0,188.0 584.4,188.5 582.9,188.7 581.4,188.8"/><polygon points="590.4,186.4 593.9,185.1 597.4,183.6 600.9,181.9 602.4,182.0 604.0,182.1 605.5,182.1 602.0,183.8 598.5,185.2 595.0,186.4 593.5,186.5 591.9,186.5"/><polygon points="600.9,181.9 604.4,179.9 607.9,177.6 611.3,175.1 612.9,175.4 614.4,175.5 615.9,175.6 612.4,178.0 609.0,180.2 605.5,182.1 604.0,182.1 602.4,182.0"/><polygon points="611.3,175.1 614.8,172.4 618.3,169.4 621.7,166.2 623.3,166.6 624.8,166.8 626.3,166.9 622.8,170.1 619.4,173.0 615.9,175.6 614.4,175.5 612.9,175.4"/><polygon points="621.7,166.2 625.2,162.8 628.6,159.1 632.0,155.1 633.6,155.6 635.1,155.9 636.6,156.1 633.2,159.9 629.8,163.6 626.3,166.9 624.8,166.8 623.3,166.6"/><polygon points="632.0,155.1 635.5,151.0 638.9,146.5 642.3,141.9 643.9,142.4 645.4,142.8 646.9,143.1 643.5,147.6 640.1,152.0 636.6,156.1 635.1,155.9 633.6,155.6"/></g>
<rect x="418.3" y="18.4" width="82.3" height="42.8" fill="#fff" stroke="#b4b4b4" stroke-width="1"/>
<text x="385.0" y="28.5" font-size="18.7" font-weight="bold" fill="#f40b0b" stroke="#f40b0b" stroke-width="0.4" textLength="10.6" lengthAdjust="spacingAndGlyphs">B</text>
<text x="430.7" y="32.7" font-size="10.2" font-weight="normal" fill="#14142a" stroke="#14142a" stroke-width="0.42" textLength="56.3" lengthAdjust="spacingAndGlyphs">Hold Values</text>
<text x="420.0" y="47.3" font-size="10.2" font-weight="normal" fill="#14142a" stroke="#14142a" stroke-width="0.42" textLength="77.2" lengthAdjust="spacingAndGlyphs">Amplitude %&#160;&#160;30</text>
<text x="445.6" y="90.5" font-size="10.0" font-weight="bold" fill="#000" stroke="#000" stroke-width="0.3" textLength="17.3" lengthAdjust="spacingAndGlyphs">1.75</text>
<text x="446.2" y="110.3" font-size="10.0" font-weight="bold" fill="#000" stroke="#000" stroke-width="0.3" textLength="18.0" lengthAdjust="spacingAndGlyphs">1.50</text>
<text x="446.2" y="130.6" font-size="10.0" font-weight="bold" fill="#000" stroke="#000" stroke-width="0.3" textLength="17.6" lengthAdjust="spacingAndGlyphs">1.25</text>
<text x="446.7" y="150.6" font-size="10.0" font-weight="bold" fill="#000" stroke="#000" stroke-width="0.3" textLength="18.2" lengthAdjust="spacingAndGlyphs">1.00</text>
<text x="446.7" y="170.7" font-size="10.0" font-weight="bold" fill="#000" stroke="#000" stroke-width="0.3" textLength="17.8" lengthAdjust="spacingAndGlyphs">0.75</text>
<text x="447.4" y="190.9" font-size="10.0" font-weight="bold" fill="#000" stroke="#000" stroke-width="0.3" textLength="18.6" lengthAdjust="spacingAndGlyphs">0.50</text>
<text x="415.5" y="131.3" font-size="10.0" font-weight="bold" fill="#000" stroke="#000" stroke-width="0.3" textLength="16.4" lengthAdjust="spacingAndGlyphs">PDI</text>
<text x="472.1" y="213.8" font-size="10.0" font-weight="bold" fill="#000" stroke="#000" stroke-width="0.3" textLength="12.6" lengthAdjust="spacingAndGlyphs">5.0</text>
<text x="509.5" y="219.4" font-size="10.0" font-weight="bold" fill="#000" stroke="#000" stroke-width="0.3" textLength="12.2" lengthAdjust="spacingAndGlyphs">7.5</text>
<text x="544.2" y="225.7" font-size="10.0" font-weight="bold" fill="#000" stroke="#000" stroke-width="0.3" textLength="17.5" lengthAdjust="spacingAndGlyphs">10.0</text>
<text x="580.6" y="231.9" font-size="10.0" font-weight="bold" fill="#000" stroke="#000" stroke-width="0.3" textLength="17.8" lengthAdjust="spacingAndGlyphs">12.5</text>
<text x="617.3" y="238.3" font-size="10.0" font-weight="bold" fill="#000" stroke="#000" stroke-width="0.3" textLength="18.1" lengthAdjust="spacingAndGlyphs">15.0</text>
<text x="517.8" y="241.7" font-size="10.0" font-weight="bold" fill="#000" stroke="#000" stroke-width="0.3" textLength="37.0" lengthAdjust="spacingAndGlyphs">Smix %</text>
<text x="729.6" y="160.0" font-size="10.0" font-weight="bold" fill="#000" stroke="#000" stroke-width="0.3" textLength="10.2" lengthAdjust="spacingAndGlyphs">90</text>
<text x="714.2" y="176.8" font-size="10.0" font-weight="bold" fill="#000" stroke="#000" stroke-width="0.3" textLength="10.0" lengthAdjust="spacingAndGlyphs">75</text>
<text x="698.8" y="193.4" font-size="10.0" font-weight="bold" fill="#000" stroke="#000" stroke-width="0.3" textLength="9.6" lengthAdjust="spacingAndGlyphs">60</text>
<text x="682.4" y="209.8" font-size="10.0" font-weight="bold" fill="#000" stroke="#000" stroke-width="0.3" textLength="10.0" lengthAdjust="spacingAndGlyphs">45</text>
<text x="667.0" y="226.1" font-size="10.0" font-weight="bold" fill="#000" stroke="#000" stroke-width="0.3" textLength="10.2" lengthAdjust="spacingAndGlyphs">30</text>
<text x="721.9" y="200.1" font-size="10.0" font-weight="bold" fill="#000" stroke="#000" stroke-width="0.3" textLength="49.7" lengthAdjust="spacingAndGlyphs">Time (sec)</text>
<text x="422.4" y="267.5" font-size="18.2" font-weight="normal" fill="#000" stroke="#000" stroke-width="0.4" textLength="317.6" lengthAdjust="spacingAndGlyphs">Surface Plot of PDI vs Time (sec), Smix %</text>
<g stroke="#bdbdbd" stroke-width="1" fill="none"><line x1="286.0" y1="486.6" x2="463.2" y2="517.6"/><line x1="463.2" y1="517.6" x2="538.1" y2="438.8"/><line x1="286.0" y1="486.6" x2="284.0" y2="366.7"/><line x1="284.0" y1="366.7" x2="359.1" y2="287.4"/><line x1="359.1" y1="287.4" x2="534.3" y2="316.6"/><line x1="534.3" y1="316.6" x2="538.1" y2="438.8"/><line x1="359.1" y1="287.4" x2="360.9" y2="407.8"/><line x1="286.0" y1="486.6" x2="360.9" y2="407.8"/><line x1="360.9" y1="407.8" x2="538.1" y2="438.8"/></g>
<g stroke="#bdbdbd" stroke-width="1"><line x1="294.0" y1="488.0" x2="290.9" y2="491.3"/><line x1="333.8" y1="495.0" x2="330.7" y2="498.2"/><line x1="373.7" y1="501.9" x2="370.6" y2="505.2"/><line x1="413.6" y1="508.9" x2="410.5" y2="512.2"/><line x1="453.5" y1="515.9" x2="450.4" y2="519.2"/></g><g stroke="#bdbdbd" stroke-width="1"><line x1="467.7" y1="512.9" x2="472.2" y2="512.9"/><line x1="484.4" y1="495.3" x2="488.9" y2="495.3"/><line x1="501.0" y1="477.8" x2="505.5" y2="477.8"/><line x1="517.7" y1="460.3" x2="522.2" y2="460.3"/><line x1="534.4" y1="442.7" x2="538.9" y2="442.7"/></g><g stroke="#bdbdbd" stroke-width="1"><line x1="286.0" y1="484.8" x2="281.5" y2="484.8"/><line x1="285.6" y1="461.2" x2="281.1" y2="461.2"/><line x1="285.2" y1="437.7" x2="280.7" y2="437.7"/><line x1="284.8" y1="414.1" x2="280.3" y2="414.1"/><line x1="284.4" y1="390.6" x2="279.9" y2="390.6"/><line x1="284.0" y1="367.0" x2="279.5" y2="367.0"/></g>
<g fill="#02c834" stroke="#000" stroke-width="0.68" stroke-linejoin="round"><polygon points="360.5,321.4 364.3,325.9 368.2,330.2 372.0,334.4 373.5,330.0 375.1,325.5 376.6,320.8 372.8,316.8 369.0,312.6 365.2,308.2 363.7,312.7 362.1,317.1"/><polygon points="372.0,334.4 375.8,338.4 379.6,342.1 383.4,345.8 384.9,341.3 386.5,336.6 388.0,331.8 384.2,328.3 380.4,324.7 376.6,320.8 375.1,325.5 373.5,330.0"/><polygon points="383.4,345.8 387.2,349.2 391.0,352.4 394.8,355.5 396.4,350.9 397.9,346.1 399.4,341.2 395.6,338.3 391.8,335.1 388.0,331.8 386.5,336.6 384.9,341.3"/><polygon points="394.8,355.5 398.6,358.4 402.4,361.1 406.2,363.6 407.7,358.9 409.3,354.0 410.8,348.9 407.0,346.5 403.2,344.0 399.4,341.2 397.9,346.1 396.4,350.9"/><polygon points="406.2,363.6 410.0,365.9 413.8,368.1 417.6,370.1 419.1,365.2 420.6,360.2 422.2,355.0 418.4,353.2 414.6,351.2 410.8,348.9 409.3,354.0 407.7,358.9"/><polygon points="417.6,370.1 421.4,371.9 425.1,373.5 428.9,374.9 430.4,369.9 432.0,364.8 433.5,359.5 429.7,358.2 426.0,356.7 422.2,355.0 420.6,360.2 419.1,365.2"/><polygon points="428.9,374.9 432.7,376.1 436.5,377.2 440.2,378.1 441.8,373.0 443.3,367.7 444.8,362.3 441.0,361.6 437.3,360.6 433.5,359.5 432.0,364.8 430.4,369.9"/><polygon points="440.2,378.1 444.0,378.8 447.8,379.3 451.5,379.6 453.0,374.4 454.5,369.0 456.0,363.5 452.3,363.3 448.5,362.9 444.8,362.3 443.3,367.7 441.8,373.0"/><polygon points="451.5,379.6 455.3,379.7 459.0,379.7 462.7,379.5 464.3,374.1 465.8,368.6 467.3,363.0 463.5,363.3 459.8,363.5 456.0,363.5 454.5,369.0 453.0,374.4"/><polygon points="462.7,379.5 466.5,379.1 470.2,378.5 473.9,377.7 475.4,372.2 476.9,366.6 478.4,360.8 474.7,361.7 471.0,362.4 467.3,363.0 465.8,368.6 464.3,374.1"/><polygon points="473.9,377.7 477.7,376.7 481.4,375.6 485.1,374.2 486.6,368.6 488.1,362.9 489.5,357.0 485.8,358.4 482.1,359.7 478.4,360.8 476.9,366.6 475.4,372.2"/><polygon points="485.1,374.2 488.8,372.7 492.5,371.0 496.2,369.1 497.6,363.4 499.1,357.5 500.6,351.5 496.9,353.5 493.2,355.3 489.5,357.0 488.1,362.9 486.6,368.6"/><polygon points="496.2,369.1 499.8,367.0 503.5,364.8 507.2,362.3 508.6,356.5 510.1,350.5 511.6,344.3 507.9,346.9 504.3,349.3 500.6,351.5 499.1,357.5 497.6,363.4"/><polygon points="507.2,362.3 510.8,359.7 514.5,356.9 518.1,353.9 519.6,347.9 521.0,341.7 522.5,335.5 518.9,338.6 515.2,341.5 511.6,344.3 510.1,350.5 508.6,356.5"/><polygon points="355.8,333.3 359.6,337.9 363.5,342.4 367.3,346.6 368.8,342.7 370.4,338.6 372.0,334.4 368.2,330.2 364.3,325.9 360.5,321.4 359.0,325.5 357.4,329.5"/><polygon points="367.3,346.6 371.1,350.7 374.9,354.6 378.7,358.4 380.3,354.3 381.8,350.1 383.4,345.8 379.6,342.1 375.8,338.4 372.0,334.4 370.4,338.6 368.8,342.7"/><polygon points="378.7,358.4 382.5,361.9 386.3,365.3 390.1,368.5 391.7,364.3 393.3,360.0 394.8,355.5 391.0,352.4 387.2,349.2 383.4,345.8 381.8,350.1 380.3,354.3"/><polygon points="390.1,368.5 393.9,371.5 397.8,374.3 401.6,376.9 403.1,372.6 404.7,368.2 406.2,363.6 402.4,361.1 398.6,358.4 394.8,355.5 393.3,360.0 391.7,364.3"/><polygon points="401.6,376.9 405.4,379.4 409.1,381.7 412.9,383.8 414.5,379.4 416.0,374.8 417.6,370.1 413.8,368.1 410.0,365.9 406.2,363.6 404.7,368.2 403.1,372.6"/><polygon points="412.9,383.8 416.7,385.7 420.5,387.4 424.3,389.0 425.8,384.4 427.4,379.7 428.9,374.9 425.1,373.5 421.4,371.9 417.6,370.1 416.0,374.8 414.5,379.4"/><polygon points="424.3,389.0 428.1,390.3 431.9,391.5 435.6,392.5 437.2,387.9 438.7,383.0 440.2,378.1 436.5,377.2 432.7,376.1 428.9,374.9 427.4,379.7 425.8,384.4"/><polygon points="435.6,392.5 439.4,393.3 443.2,394.0 446.9,394.4 448.5,389.6 450.0,384.7 451.5,379.6 447.8,379.3 444.0,378.8 440.2,378.1 438.7,383.0 437.2,387.9"/><polygon points="446.9,394.4 450.7,394.7 454.4,394.8 458.2,394.7 459.7,389.7 461.2,384.7 462.7,379.5 459.0,379.7 455.3,379.7 451.5,379.6 450.0,384.7 448.5,389.6"/><polygon points="458.2,394.7 461.9,394.4 465.7,393.9 469.4,393.2 470.9,388.2 472.4,383.0 473.9,377.7 470.2,378.5 466.5,379.1 462.7,379.5 461.2,384.7 459.7,389.7"/><polygon points="469.4,393.2 473.1,392.4 476.8,391.4 480.6,390.2 482.1,385.0 483.6,379.7 485.1,374.2 481.4,375.6 477.7,376.7 473.9,377.7 472.4,383.0 470.9,388.2"/><polygon points="480.6,390.2 484.3,388.8 488.0,387.2 491.7,385.4 493.2,380.1 494.7,374.7 496.2,369.1 492.5,371.0 488.8,372.7 485.1,374.2 483.6,379.7 482.1,385.0"/><polygon points="491.7,385.4 495.4,383.5 499.0,381.3 502.7,379.0 504.2,373.6 505.7,368.0 507.2,362.3 503.5,364.8 499.8,367.0 496.2,369.1 494.7,374.7 493.2,380.1"/><polygon points="502.7,379.0 506.4,376.5 510.0,373.8 513.7,370.9 515.2,365.4 516.7,359.7 518.1,353.9 514.5,356.9 510.8,359.7 507.2,362.3 505.7,368.0 504.2,373.6"/><polygon points="351.1,343.9 354.9,348.6 358.7,353.2 362.6,357.6 364.1,354.1 365.7,350.4 367.3,346.6 363.5,342.4 359.6,337.9 355.8,333.3 354.2,337.0 352.7,340.5"/><polygon points="362.6,357.6 366.4,361.8 370.2,365.8 374.0,369.7 375.6,366.1 377.1,362.3 378.7,358.4 374.9,354.6 371.1,350.7 367.3,346.6 365.7,350.4 364.1,354.1"/><polygon points="374.0,369.7 377.8,373.3 381.6,376.8 385.5,380.1 387.0,376.4 388.6,372.5 390.1,368.5 386.3,365.3 382.5,361.9 378.7,358.4 377.1,362.3 375.6,366.1"/><polygon points="385.5,380.1 389.3,383.3 393.1,386.2 396.9,389.0 398.4,385.1 400.0,381.1 401.6,376.9 397.8,374.3 393.9,371.5 390.1,368.5 388.6,372.5 387.0,376.4"/><polygon points="396.9,389.0 400.7,391.6 404.5,394.0 408.3,396.2 409.8,392.2 411.4,388.1 412.9,383.8 409.1,381.7 405.4,379.4 401.6,376.9 400.0,381.1 398.4,385.1"/><polygon points="408.3,396.2 412.1,398.2 415.9,400.1 419.7,401.7 421.2,397.6 422.8,393.4 424.3,389.0 420.5,387.4 416.7,385.7 412.9,383.8 411.4,388.1 409.8,392.2"/><polygon points="419.7,401.7 423.5,403.2 427.2,404.5 431.0,405.6 432.6,401.4 434.1,397.0 435.6,392.5 431.9,391.5 428.1,390.3 424.3,389.0 422.8,393.4 421.2,397.6"/><polygon points="431.0,405.6 434.8,406.6 438.6,407.3 442.3,407.9 443.9,403.6 445.4,399.1 446.9,394.4 443.2,394.0 439.4,393.3 435.6,392.5 434.1,397.0 432.6,401.4"/><polygon points="442.3,407.9 446.1,408.3 449.8,408.5 453.6,408.5 455.1,404.0 456.7,399.4 458.2,394.7 454.4,394.8 450.7,394.7 446.9,394.4 445.4,399.1 443.9,403.6"/><polygon points="453.6,408.5 457.4,408.4 461.1,408.0 464.8,407.5 466.4,402.9 467.9,398.1 469.4,393.2 465.7,393.9 461.9,394.4 458.2,394.7 456.7,399.4 455.1,404.0"/><polygon points="464.8,407.5 468.6,406.8 472.3,405.9 476.0,404.8 477.5,400.0 479.1,395.2 480.6,390.2 476.8,391.4 473.1,392.4 469.4,393.2 467.9,398.1 466.4,402.9"/><polygon points="476.0,404.8 479.7,403.5 483.4,402.0 487.1,400.4 488.7,395.5 490.2,390.6 491.7,385.4 488.0,387.2 484.3,388.8 480.6,390.2 479.1,395.2 477.5,400.0"/><polygon points="487.1,400.4 490.8,398.6 494.5,396.5 498.2,394.3 499.7,389.4 501.2,384.3 502.7,379.0 499.0,381.3 495.4,383.5 491.7,385.4 490.2,390.6 488.7,395.5"/><polygon points="498.2,394.3 501.9,392.0 505.6,389.4 509.2,386.6 510.7,381.5 512.2,376.3 513.7,370.9 510.0,373.8 506.4,376.5 502.7,379.0 501.2,384.3 499.7,389.4"/><polygon points="346.3,353.1 350.2,358.0 354.0,362.7 357.8,367.2 359.4,364.2 361.0,360.9 362.6,357.6 358.7,353.2 354.9,348.6 351.1,343.9 349.5,347.1 347.9,350.2"/><polygon points="357.8,367.2 361.6,371.6 365.5,375.7 369.3,379.7 370.9,376.5 372.4,373.2 374.0,369.7 370.2,365.8 366.4,361.8 362.6,357.6 361.0,360.9 359.4,364.2"/><polygon points="369.3,379.7 373.1,383.5 376.9,387.1 380.7,390.5 382.3,387.2 383.9,383.7 385.5,380.1 381.6,376.8 377.8,373.3 374.0,369.7 372.4,373.2 370.9,376.5"/><polygon points="380.7,390.5 384.6,393.7 388.4,396.8 392.2,399.7 393.7,396.3 395.3,392.7 396.9,389.0 393.1,386.2 389.3,383.3 385.5,380.1 383.9,383.7 382.3,387.2"/><polygon points="392.2,399.7 396.0,402.4 399.8,404.9 403.6,407.2 405.2,403.7 406.7,400.0 408.3,396.2 404.5,394.0 400.7,391.6 396.9,389.0 395.3,392.7 393.7,396.3"/><polygon points="403.6,407.2 407.4,409.4 411.2,411.4 415.0,413.2 416.6,409.5 418.1,405.7 419.7,401.7 415.9,400.1 412.1,398.2 408.3,396.2 406.7,400.0 405.2,403.7"/><polygon points="415.0,413.2 418.8,414.8 422.6,416.2 426.4,417.4 427.9,413.7 429.5,409.7 431.0,405.6 427.2,404.5 423.5,403.2 419.7,401.7 418.1,405.7 416.6,409.5"/><polygon points="426.4,417.4 430.1,418.5 433.9,419.4 437.7,420.1 439.2,416.2 440.8,412.1 442.3,407.9 438.6,407.3 434.8,406.6 431.0,405.6 429.5,409.7 427.9,413.7"/><polygon points="437.7,420.1 441.5,420.6 445.2,420.9 449.0,421.0 450.5,417.0 452.1,412.8 453.6,408.5 449.8,408.5 446.1,408.3 442.3,407.9 440.8,412.1 439.2,416.2"/><polygon points="449.0,421.0 452.7,421.0 456.5,420.8 460.2,420.4 461.8,416.2 463.3,411.9 464.8,407.5 461.1,408.0 457.4,408.4 453.6,408.5 452.1,412.8 450.5,417.0"/><polygon points="460.2,420.4 464.0,419.8 467.7,419.0 471.4,418.0 473.0,413.8 474.5,409.3 476.0,404.8 472.3,405.9 468.6,406.8 464.8,407.5 463.3,411.9 461.8,416.2"/><polygon points="471.4,418.0 475.1,416.9 478.9,415.5 482.6,414.0 484.1,409.6 485.6,405.1 487.1,400.4 483.4,402.0 479.7,403.5 476.0,404.8 474.5,409.3 473.0,413.8"/><polygon points="482.6,414.0 486.3,412.3 490.0,410.4 493.7,408.4 495.2,403.8 496.7,399.2 498.2,394.3 494.5,396.5 490.8,398.6 487.1,400.4 485.6,405.1 484.1,409.6"/><polygon points="493.7,408.4 497.4,406.1 501.0,403.6 504.7,401.0 506.2,396.4 507.7,391.6 509.2,386.6 505.6,389.4 501.9,392.0 498.2,394.3 496.7,399.2 495.2,403.8"/><polygon points="341.6,361.1 345.4,366.1 349.2,370.9 353.0,375.5 354.6,372.9 356.2,370.1 357.8,367.2 354.0,362.7 350.2,358.0 346.3,353.1 344.7,355.9 343.2,358.6"/><polygon points="353.0,375.5 356.9,380.0 360.7,384.3 364.5,388.4 366.1,385.6 367.7,382.7 369.3,379.7 365.5,375.7 361.6,371.6 357.8,367.2 356.2,370.1 354.6,372.9"/><polygon points="364.5,388.4 368.4,392.3 372.2,396.0 376.0,399.5 377.6,396.7 379.2,393.7 380.7,390.5 376.9,387.1 373.1,383.5 369.3,379.7 367.7,382.7 366.1,385.6"/><polygon points="376.0,399.5 379.8,402.9 383.6,406.1 387.5,409.1 389.0,406.1 390.6,403.0 392.2,399.7 388.4,396.8 384.6,393.7 380.7,390.5 379.2,393.7 377.6,396.7"/><polygon points="387.5,409.1 391.3,411.9 395.1,414.5 398.9,417.0 400.5,413.9 402.0,410.6 403.6,407.2 399.8,404.9 396.0,402.4 392.2,399.7 390.6,403.0 389.0,406.1"/><polygon points="398.9,417.0 402.7,419.3 406.5,421.4 410.3,423.3 411.9,420.1 413.4,416.7 415.0,413.2 411.2,411.4 407.4,409.4 403.6,407.2 402.0,410.6 400.5,413.9"/><polygon points="410.3,423.3 414.1,425.0 417.9,426.6 421.7,427.9 423.2,424.6 424.8,421.1 426.4,417.4 422.6,416.2 418.8,414.8 415.0,413.2 413.4,416.7 411.9,420.1"/><polygon points="421.7,427.9 425.4,429.1 429.2,430.1 433.0,430.9 434.6,427.4 436.1,423.8 437.7,420.1 433.9,419.4 430.1,418.5 426.4,417.4 424.8,421.1 423.2,424.6"/><polygon points="433.0,430.9 436.8,431.5 440.6,432.0 444.3,432.3 445.9,428.7 447.4,424.9 449.0,421.0 445.2,420.9 441.5,420.6 437.7,420.1 436.1,423.8 434.6,427.4"/><polygon points="444.3,432.3 448.1,432.3 451.8,432.2 455.6,431.9 457.1,428.2 458.7,424.4 460.2,420.4 456.5,420.8 452.7,421.0 449.0,421.0 447.4,424.9 445.9,428.7"/><polygon points="455.6,431.9 459.3,431.5 463.1,430.8 466.8,430.0 468.3,426.1 469.9,422.2 471.4,418.0 467.7,419.0 464.0,419.8 460.2,420.4 458.7,424.4 457.1,428.2"/><polygon points="466.8,430.0 470.5,428.9 474.2,427.7 478.0,426.3 479.5,422.4 481.0,418.3 482.6,414.0 478.9,415.5 475.1,416.9 471.4,418.0 469.9,422.2 468.3,426.1"/><polygon points="478.0,426.3 481.7,424.8 485.4,423.0 489.1,421.0 490.6,417.0 492.1,412.7 493.7,408.4 490.0,410.4 486.3,412.3 482.6,414.0 481.0,418.3 479.5,422.4"/><polygon points="489.1,421.0 492.8,418.9 496.5,416.6 500.1,414.1 501.7,409.9 503.2,405.5 504.7,401.0 501.0,403.6 497.4,406.1 493.7,408.4 492.1,412.7 490.6,417.0"/><polygon points="336.8,367.8 340.6,372.9 344.4,377.8 348.3,382.6 349.9,380.4 351.5,378.0 353.0,375.5 349.2,370.9 345.4,366.1 341.6,361.1 340.0,363.5 338.4,365.7"/><polygon points="348.3,382.6 352.1,387.1 355.9,391.5 359.8,395.7 361.4,393.4 362.9,391.0 364.5,388.4 360.7,384.3 356.9,380.0 353.0,375.5 351.5,378.0 349.9,380.4"/><polygon points="359.8,395.7 363.6,399.8 367.4,403.6 371.2,407.3 372.8,404.8 374.4,402.3 376.0,399.5 372.2,396.0 368.4,392.3 364.5,388.4 362.9,391.0 361.4,393.4"/><polygon points="371.2,407.3 375.1,410.7 378.9,414.1 382.7,417.2 384.3,414.6 385.9,411.9 387.5,409.1 383.6,406.1 379.8,402.9 376.0,399.5 374.4,402.3 372.8,404.8"/><polygon points="382.7,417.2 386.5,420.1 390.3,422.9 394.1,425.4 395.7,422.8 397.3,420.0 398.9,417.0 395.1,414.5 391.3,411.9 387.5,409.1 385.9,411.9 384.3,414.6"/><polygon points="394.1,425.4 397.9,427.8 401.8,430.1 405.6,432.1 407.1,429.3 408.7,426.4 410.3,423.3 406.5,421.4 402.7,419.3 398.9,417.0 397.3,420.0 395.7,422.8"/><polygon points="405.6,432.1 409.4,433.9 413.2,435.6 416.9,437.1 418.5,434.2 420.1,431.1 421.7,427.9 417.9,426.6 414.1,425.0 410.3,423.3 408.7,426.4 407.1,429.3"/><polygon points="416.9,437.1 420.7,438.4 424.5,439.5 428.3,440.4 429.9,437.4 431.4,434.2 433.0,430.9 429.2,430.1 425.4,429.1 421.7,427.9 420.1,431.1 418.5,434.2"/><polygon points="428.3,440.4 432.1,441.2 435.9,441.8 439.6,442.1 441.2,439.0 442.8,435.7 444.3,432.3 440.6,432.0 436.8,431.5 433.0,430.9 431.4,434.2 429.9,437.4"/><polygon points="439.6,442.1 443.4,442.3 447.1,442.4 450.9,442.2 452.5,438.9 454.0,435.5 455.6,431.9 451.8,432.2 448.1,432.3 444.3,432.3 442.8,435.7 441.2,439.0"/><polygon points="450.9,442.2 454.6,441.8 458.4,441.3 462.1,440.6 463.7,437.2 465.2,433.7 466.8,430.0 463.1,430.8 459.3,431.5 455.6,431.9 454.0,435.5 452.5,438.9"/><polygon points="462.1,440.6 465.9,439.7 469.6,438.6 473.3,437.3 474.9,433.8 476.4,430.1 478.0,426.3 474.2,427.7 470.5,428.9 466.8,430.0 465.2,433.7 463.7,437.2"/><polygon points="473.3,437.3 477.0,435.9 480.7,434.2 484.4,432.4 486.0,428.8 487.5,425.0 489.1,421.0 485.4,423.0 481.7,424.8 478.0,426.3 476.4,430.1 474.9,433.8"/><polygon points="484.4,432.4 488.1,430.4 491.8,428.2 495.5,425.8 497.1,422.0 498.6,418.1 500.1,414.1 496.5,416.6 492.8,418.9 489.1,421.0 487.5,425.0 486.0,428.8"/><polygon points="331.9,373.1 335.8,378.4 339.6,383.4 343.5,388.3 345.1,386.5 346.7,384.6 348.3,382.6 344.4,377.8 340.6,372.9 336.8,367.8 335.2,369.7 333.6,371.5"/><polygon points="343.5,388.3 347.3,393.0 351.1,397.5 355.0,401.8 356.6,399.9 358.2,397.9 359.8,395.7 355.9,391.5 352.1,387.1 348.3,382.6 346.7,384.6 345.1,386.5"/><polygon points="355.0,401.8 358.8,405.9 362.6,409.9 366.4,413.7 368.0,411.7 369.6,409.5 371.2,407.3 367.4,403.6 363.6,399.8 359.8,395.7 358.2,397.9 356.6,399.9"/><polygon points="366.4,413.7 370.3,417.3 374.1,420.7 377.9,423.9 379.5,421.8 381.1,419.6 382.7,417.2 378.9,414.1 375.1,410.7 371.2,407.3 369.6,409.5 368.0,411.7"/><polygon points="377.9,423.9 381.7,427.0 385.6,429.9 389.4,432.6 391.0,430.3 392.6,428.0 394.1,425.4 390.3,422.9 386.5,420.1 382.7,417.2 381.1,419.6 379.5,421.8"/><polygon points="389.4,432.6 393.2,435.1 397.0,437.4 400.8,439.6 402.4,437.2 404.0,434.7 405.6,432.1 401.8,430.1 397.9,427.8 394.1,425.4 392.6,428.0 391.0,430.3"/><polygon points="400.8,439.6 404.6,441.5 408.4,443.3 412.2,444.9 413.8,442.5 415.4,439.8 416.9,437.1 413.2,435.6 409.4,433.9 405.6,432.1 404.0,434.7 402.4,437.2"/><polygon points="412.2,444.9 416.0,446.4 419.8,447.6 423.6,448.6 425.1,446.1 426.7,443.3 428.3,440.4 424.5,439.5 420.7,438.4 416.9,437.1 415.4,439.8 413.8,442.5"/><polygon points="423.6,448.6 427.3,449.5 431.1,450.2 434.9,450.7 436.5,448.0 438.0,445.1 439.6,442.1 435.9,441.8 432.1,441.2 428.3,440.4 426.7,443.3 425.1,446.1"/><polygon points="434.9,450.7 438.7,451.0 442.4,451.2 446.2,451.1 447.8,448.3 449.3,445.3 450.9,442.2 447.1,442.4 443.4,442.3 439.6,442.1 438.0,445.1 436.5,448.0"/><polygon points="446.2,451.1 449.9,450.9 453.7,450.5 457.4,449.9 459.0,446.9 460.6,443.8 462.1,440.6 458.4,441.3 454.6,441.8 450.9,442.2 449.3,445.3 447.8,448.3"/><polygon points="457.4,449.9 461.2,449.1 464.9,448.1 468.6,447.0 470.2,443.9 471.8,440.7 473.3,437.3 469.6,438.6 465.9,439.7 462.1,440.6 460.6,443.8 459.0,446.9"/><polygon points="468.6,447.0 472.4,445.7 476.1,444.1 479.8,442.4 481.3,439.2 482.9,435.9 484.4,432.4 480.7,434.2 477.0,435.9 473.3,437.3 471.8,440.7 470.2,443.9"/><polygon points="479.8,442.4 483.5,440.5 487.2,438.5 490.9,436.2 492.4,432.9 494.0,429.4 495.5,425.8 491.8,428.2 488.1,430.4 484.4,432.4 482.9,435.9 481.3,439.2"/><polygon points="327.1,377.2 331.0,382.5 334.8,387.7 338.6,392.7 340.2,391.4 341.9,389.9 343.5,388.3 339.6,383.4 335.8,378.4 331.9,373.1 330.3,374.6 328.7,376.0"/><polygon points="338.6,392.7 342.5,397.5 346.3,402.1 350.1,406.5 351.7,405.1 353.4,403.5 355.0,401.8 351.1,397.5 347.3,393.0 343.5,388.3 341.9,389.9 340.2,391.4"/><polygon points="350.1,406.5 354.0,410.8 357.8,414.9 361.6,418.8 363.2,417.2 364.8,415.5 366.4,413.7 362.6,409.9 358.8,405.9 355.0,401.8 353.4,403.5 351.7,405.1"/><polygon points="361.6,418.8 365.5,422.5 369.3,426.1 373.1,429.4 374.7,427.7 376.3,425.9 377.9,423.9 374.1,420.7 370.3,417.3 366.4,413.7 364.8,415.5 363.2,417.2"/><polygon points="373.1,429.4 376.9,432.6 380.8,435.6 384.6,438.4 386.2,436.6 387.8,434.7 389.4,432.6 385.6,429.9 381.7,427.0 377.9,423.9 376.3,425.9 374.7,427.7"/><polygon points="384.6,438.4 388.4,441.0 392.2,443.5 396.0,445.8 397.6,443.8 399.2,441.8 400.8,439.6 397.0,437.4 393.2,435.1 389.4,432.6 387.8,434.7 386.2,436.6"/><polygon points="396.0,445.8 399.8,447.8 403.6,449.7 407.4,451.5 409.0,449.4 410.6,447.3 412.2,444.9 408.4,443.3 404.6,441.5 400.8,439.6 399.2,441.8 397.6,443.8"/><polygon points="407.4,451.5 411.2,453.0 415.0,454.4 418.8,455.5 420.4,453.4 422.0,451.1 423.6,448.6 419.8,447.6 416.0,446.4 412.2,444.9 410.6,447.3 409.0,449.4"/><polygon points="418.8,455.5 422.6,456.5 426.4,457.3 430.1,458.0 431.7,455.7 433.3,453.3 434.9,450.7 431.1,450.2 427.3,449.5 423.6,448.6 422.0,451.1 420.4,453.4"/><polygon points="430.1,458.0 433.9,458.4 437.7,458.7 441.4,458.7 443.0,456.4 444.6,453.8 446.2,451.1 442.4,451.2 438.7,451.0 434.9,450.7 433.3,453.3 431.7,455.7"/><polygon points="441.4,458.7 445.2,458.6 448.9,458.3 452.7,457.9 454.3,455.4 455.9,452.7 457.4,449.9 453.7,450.5 449.9,450.9 446.2,451.1 444.6,453.8 443.0,456.4"/><polygon points="452.7,457.9 456.4,457.2 460.2,456.4 463.9,455.3 465.5,452.7 467.1,449.9 468.6,447.0 464.9,448.1 461.2,449.1 457.4,449.9 455.9,452.7 454.3,455.4"/><polygon points="463.9,455.3 467.6,454.1 471.4,452.7 475.1,451.1 476.6,448.4 478.2,445.5 479.8,442.4 476.1,444.1 472.4,445.7 468.6,447.0 467.1,449.9 465.5,452.7"/><polygon points="475.1,451.1 478.8,449.4 482.5,447.4 486.2,445.3 487.8,442.4 489.3,439.4 490.9,436.2 487.2,438.5 483.5,440.5 479.8,442.4 478.2,445.5 476.6,448.4"/><polygon points="322.3,379.9 326.1,385.4 329.9,390.7 333.8,395.8 335.4,394.9 337.0,393.9 338.6,392.7 334.8,387.7 331.0,382.5 327.1,377.2 325.5,378.2 323.9,379.2"/><polygon points="333.8,395.8 337.6,400.7 341.5,405.4 345.3,410.0 346.9,409.0 348.5,407.8 350.1,406.5 346.3,402.1 342.5,397.5 338.6,392.7 337.0,393.9 335.4,394.9"/><polygon points="345.3,410.0 349.1,414.4 353.0,418.6 356.8,422.6 358.4,421.5 360.0,420.2 361.6,418.8 357.8,414.9 354.0,410.8 350.1,406.5 348.5,407.8 346.9,409.0"/><polygon points="356.8,422.6 360.6,426.4 364.5,430.1 368.3,433.6 369.9,432.3 371.5,430.9 373.1,429.4 369.3,426.1 365.5,422.5 361.6,418.8 360.0,420.2 358.4,421.5"/><polygon points="368.3,433.6 372.1,436.9 375.9,440.0 379.7,442.9 381.4,441.6 383.0,440.1 384.6,438.4 380.8,435.6 376.9,432.6 373.1,429.4 371.5,430.9 369.9,432.3"/><polygon points="379.7,442.9 383.6,445.7 387.4,448.2 391.2,450.6 392.8,449.1 394.4,447.5 396.0,445.8 392.2,443.5 388.4,441.0 384.6,438.4 383.0,440.1 381.4,441.6"/><polygon points="391.2,450.6 395.0,452.8 398.8,454.9 402.6,456.7 404.2,455.1 405.8,453.4 407.4,451.5 403.6,449.7 399.8,447.8 396.0,445.8 394.4,447.5 392.8,449.1"/><polygon points="402.6,456.7 406.4,458.4 410.2,459.8 414.0,461.1 415.6,459.4 417.2,457.5 418.8,455.5 415.0,454.4 411.2,453.0 407.4,451.5 405.8,453.4 404.2,455.1"/><polygon points="414.0,461.1 417.8,462.2 421.6,463.2 425.3,463.9 426.9,462.1 428.5,460.1 430.1,458.0 426.4,457.3 422.6,456.5 418.8,455.5 417.2,457.5 415.6,459.4"/><polygon points="425.3,463.9 429.1,464.5 432.9,464.8 436.7,465.0 438.2,463.1 439.8,461.0 441.4,458.7 437.7,458.7 433.9,458.4 430.1,458.0 428.5,460.1 426.9,462.1"/><polygon points="436.7,465.0 440.4,465.1 444.2,464.9 447.9,464.5 449.5,462.5 451.1,460.2 452.7,457.9 448.9,458.3 445.2,458.6 441.4,458.7 439.8,461.0 438.2,463.1"/><polygon points="447.9,464.5 451.7,464.0 455.4,463.3 459.1,462.4 460.7,460.2 462.3,457.8 463.9,455.3 460.2,456.4 456.4,457.2 452.7,457.9 451.1,460.2 449.5,462.5"/><polygon points="459.1,462.4 462.9,461.3 466.6,460.0 470.3,458.5 471.9,456.2 473.5,453.7 475.1,451.1 471.4,452.7 467.6,454.1 463.9,455.3 462.3,457.8 460.7,460.2"/><polygon points="470.3,458.5 474.0,456.9 477.8,455.0 481.5,453.0 483.0,450.6 484.6,448.0 486.2,445.3 482.5,447.4 478.8,449.4 475.1,451.1 473.5,453.7 471.9,456.2"/><polygon points="317.4,381.4 321.2,387.0 325.1,392.4 328.9,397.6 330.5,397.1 332.2,396.5 333.8,395.8 329.9,390.7 326.1,385.4 322.3,379.9 320.6,380.6 319.0,381.0"/><polygon points="328.9,397.6 332.7,402.6 336.6,407.5 340.4,412.1 342.1,411.6 343.7,410.9 345.3,410.0 341.5,405.4 337.6,400.7 333.8,395.8 332.2,396.5 330.5,397.1"/><polygon points="340.4,412.1 344.3,416.6 348.1,421.0 351.9,425.1 353.6,424.4 355.2,423.6 356.8,422.6 353.0,418.6 349.1,414.4 345.3,410.0 343.7,410.9 342.1,411.6"/><polygon points="351.9,425.1 355.8,429.1 359.6,432.8 363.4,436.4 365.0,435.6 366.7,434.7 368.3,433.6 364.5,430.1 360.6,426.4 356.8,422.6 355.2,423.6 353.6,424.4"/><polygon points="363.4,436.4 367.3,439.8 371.1,443.1 374.9,446.1 376.5,445.2 378.1,444.1 379.7,442.9 375.9,440.0 372.1,436.9 368.3,433.6 366.7,434.7 365.0,435.6"/><polygon points="374.9,446.1 378.7,449.0 382.5,451.7 386.3,454.2 388.0,453.1 389.6,452.0 391.2,450.6 387.4,448.2 383.6,445.7 379.7,442.9 378.1,444.1 376.5,445.2"/><polygon points="386.3,454.2 390.2,456.5 394.0,458.6 397.8,460.6 399.4,459.4 401.0,458.1 402.6,456.7 398.8,454.9 395.0,452.8 391.2,450.6 389.6,452.0 388.0,453.1"/><polygon points="397.8,460.6 401.6,462.4 405.4,464.0 409.2,465.4 410.8,464.1 412.4,462.7 414.0,461.1 410.2,459.8 406.4,458.4 402.6,456.7 401.0,458.1 399.4,459.4"/><polygon points="409.2,465.4 412.9,466.6 416.7,467.7 420.5,468.5 422.1,467.1 423.7,465.6 425.3,463.9 421.6,463.2 417.8,462.2 414.0,461.1 412.4,462.7 410.8,464.1"/><polygon points="420.5,468.5 424.3,469.2 428.1,469.7 431.8,470.0 433.4,468.5 435.0,466.9 436.7,465.0 432.9,464.8 429.1,464.5 425.3,463.9 423.7,465.6 422.1,467.1"/><polygon points="431.8,470.0 435.6,470.2 439.4,470.1 443.1,469.9 444.7,468.2 446.3,466.5 447.9,464.5 444.2,464.9 440.4,465.1 436.7,465.0 435.0,466.9 433.4,468.5"/><polygon points="443.1,469.9 446.9,469.5 450.6,468.8 454.4,468.1 456.0,466.3 457.6,464.4 459.1,462.4 455.4,463.3 451.7,464.0 447.9,464.5 446.3,466.5 444.7,468.2"/><polygon points="454.4,468.1 458.1,467.1 461.8,465.9 465.5,464.6 467.1,462.7 468.7,460.7 470.3,458.5 466.6,460.0 462.9,461.3 459.1,462.4 457.6,464.4 456.0,466.3"/><polygon points="465.5,464.6 469.3,463.1 473.0,461.4 476.7,459.5 478.3,457.5 479.9,455.3 481.5,453.0 477.8,455.0 474.0,456.9 470.3,458.5 468.7,460.7 467.1,462.7"/><polygon points="312.5,381.5 316.3,387.2 320.2,392.7 324.0,398.1 325.6,398.0 327.3,397.9 328.9,397.6 325.1,392.4 321.2,387.0 317.4,381.4 315.7,381.6 314.1,381.6"/><polygon points="324.0,398.1 327.9,403.2 331.7,408.2 335.5,413.0 337.2,412.9 338.8,412.6 340.4,412.1 336.6,407.5 332.7,402.6 328.9,397.6 327.3,397.9 325.6,398.0"/><polygon points="335.5,413.0 339.4,417.6 343.2,422.0 347.0,426.3 348.7,426.0 350.3,425.6 351.9,425.1 348.1,421.0 344.3,416.6 340.4,412.1 338.8,412.6 337.2,412.9"/><polygon points="347.0,426.3 350.9,430.4 354.7,434.3 358.5,438.0 360.2,437.6 361.8,437.1 363.4,436.4 359.6,432.8 355.8,429.1 351.9,425.1 350.3,425.6 348.7,426.0"/><polygon points="358.5,438.0 362.4,441.5 366.2,444.8 370.0,448.0 371.7,447.5 373.3,446.9 374.9,446.1 371.1,443.1 367.3,439.8 363.4,436.4 361.8,437.1 360.2,437.6"/><polygon points="370.0,448.0 373.8,451.0 377.7,453.8 381.5,456.4 383.1,455.8 384.7,455.1 386.3,454.2 382.5,451.7 378.7,449.0 374.9,446.1 373.3,446.9 371.7,447.5"/><polygon points="381.5,456.4 385.3,458.9 389.1,461.1 392.9,463.2 394.5,462.5 396.1,461.6 397.8,460.6 394.0,458.6 390.2,456.5 386.3,454.2 384.7,455.1 383.1,455.8"/><polygon points="392.9,463.2 396.7,465.1 400.5,466.8 404.3,468.4 405.9,467.5 407.5,466.5 409.2,465.4 405.4,464.0 401.6,462.4 397.8,460.6 396.1,461.6 394.5,462.5"/><polygon points="404.3,468.4 408.1,469.7 411.9,470.9 415.7,471.8 417.3,470.9 418.9,469.8 420.5,468.5 416.7,467.7 412.9,466.6 409.2,465.4 407.5,466.5 405.9,467.5"/><polygon points="415.7,471.8 419.4,472.6 423.2,473.3 427.0,473.7 428.6,472.6 430.2,471.4 431.8,470.0 428.1,469.7 424.3,469.2 420.5,468.5 418.9,469.8 417.3,470.9"/><polygon points="427.0,473.7 430.8,474.0 434.5,474.0 438.3,473.9 439.9,472.7 441.5,471.4 443.1,469.9 439.4,470.1 435.6,470.2 431.8,470.0 430.2,471.4 428.6,472.6"/><polygon points="438.3,473.9 442.0,473.6 445.8,473.1 449.5,472.4 451.1,471.1 452.8,469.7 454.4,468.1 450.6,468.8 446.9,469.5 443.1,469.9 441.5,471.4 439.9,472.7"/><polygon points="449.5,472.4 453.3,471.6 457.0,470.6 460.7,469.3 462.3,467.9 463.9,466.3 465.5,464.6 461.8,465.9 458.1,467.1 454.4,468.1 452.8,469.7 451.1,471.1"/><polygon points="460.7,469.3 464.5,467.9 468.2,466.3 471.9,464.6 473.5,463.0 475.1,461.3 476.7,459.5 473.0,461.4 469.3,463.1 465.5,464.6 463.9,466.3 462.3,467.9"/><polygon points="307.5,380.4 311.4,386.2 315.2,391.8 319.1,397.3 320.7,397.7 322.4,397.9 324.0,398.1 320.2,392.7 316.3,387.2 312.5,381.5 310.8,381.3 309.2,380.9"/><polygon points="319.1,397.3 322.9,402.5 326.8,407.6 330.6,412.5 332.3,412.8 333.9,413.0 335.5,413.0 331.7,408.2 327.9,403.2 324.0,398.1 322.4,397.9 320.7,397.7"/><polygon points="330.6,412.5 334.5,417.3 338.3,421.8 342.1,426.2 343.8,426.4 345.4,426.4 347.0,426.3 343.2,422.0 339.4,417.6 335.5,413.0 333.9,413.0 332.3,412.8"/><polygon points="342.1,426.2 346.0,430.4 349.8,434.4 353.6,438.2 355.3,438.3 356.9,438.2 358.5,438.0 354.7,434.3 350.9,430.4 347.0,426.3 345.4,426.4 343.8,426.4"/><polygon points="353.6,438.2 357.5,441.9 361.3,445.3 365.1,448.6 366.8,448.6 368.4,448.4 370.0,448.0 366.2,444.8 362.4,441.5 358.5,438.0 356.9,438.2 355.3,438.3"/><polygon points="365.1,448.6 368.9,451.7 372.8,454.6 376.6,457.4 378.2,457.2 379.8,456.9 381.5,456.4 377.7,453.8 373.8,451.0 370.0,448.0 368.4,448.4 366.8,448.6"/><polygon points="376.6,457.4 380.4,459.9 384.2,462.3 388.0,464.5 389.6,464.2 391.3,463.8 392.9,463.2 389.1,461.1 385.3,458.9 381.5,456.4 379.8,456.9 378.2,457.2"/><polygon points="388.0,464.5 391.8,466.5 395.6,468.4 399.4,470.0 401.0,469.6 402.7,469.0 404.3,468.4 400.5,466.8 396.7,465.1 392.9,463.2 391.3,463.8 389.6,464.2"/><polygon points="399.4,470.0 403.2,471.5 407.0,472.8 410.8,473.9 412.4,473.3 414.0,472.7 415.7,471.8 411.9,470.9 408.1,469.7 404.3,468.4 402.7,469.0 401.0,469.6"/><polygon points="410.8,473.9 414.6,474.8 418.3,475.5 422.1,476.1 423.7,475.4 425.4,474.6 427.0,473.7 423.2,473.3 419.4,472.6 415.7,471.8 414.0,472.7 412.4,473.3"/><polygon points="422.1,476.1 425.9,476.4 429.7,476.6 433.4,476.6 435.0,475.9 436.7,475.0 438.3,473.9 434.5,474.0 430.8,474.0 427.0,473.7 425.4,474.6 423.7,475.4"/><polygon points="433.4,476.6 437.2,476.4 440.9,476.1 444.7,475.5 446.3,474.6 447.9,473.6 449.5,472.4 445.8,473.1 442.0,473.6 438.3,473.9 436.7,475.0 435.0,475.9"/><polygon points="444.7,475.5 448.4,474.8 452.2,473.9 455.9,472.8 457.5,471.8 459.1,470.6 460.7,469.3 457.0,470.6 453.3,471.6 449.5,472.4 447.9,473.6 446.3,474.6"/><polygon points="455.9,472.8 459.6,471.5 463.3,470.0 467.1,468.4 468.7,467.3 470.3,466.0 471.9,464.6 468.2,466.3 464.5,467.9 460.7,469.3 459.1,470.6 457.5,471.8"/><polygon points="302.6,377.9 306.4,383.8 310.3,389.6 314.1,395.2 315.8,396.0 317.4,396.7 319.1,397.3 315.2,391.8 311.4,386.2 307.5,380.4 305.9,379.7 304.2,378.9"/><polygon points="314.1,395.2 318.0,400.5 321.8,405.8 325.7,410.8 327.3,411.5 329.0,412.1 330.6,412.5 326.8,407.6 322.9,402.5 319.1,397.3 317.4,396.7 315.8,396.0"/><polygon points="325.7,410.8 329.5,415.6 333.4,420.3 337.2,424.8 338.9,425.4 340.5,425.9 342.1,426.2 338.3,421.8 334.5,417.3 330.6,412.5 329.0,412.1 327.3,411.5"/><polygon points="337.2,424.8 341.0,429.1 344.9,433.2 348.7,437.2 350.4,437.7 352.0,438.0 353.6,438.2 349.8,434.4 346.0,430.4 342.1,426.2 340.5,425.9 338.9,425.4"/><polygon points="348.7,437.2 352.5,440.9 356.4,444.5 360.2,447.9 361.8,448.3 363.5,448.5 365.1,448.6 361.3,445.3 357.5,441.9 353.6,438.2 352.0,438.0 350.4,437.7"/><polygon points="360.2,447.9 364.0,451.1 367.8,454.2 371.7,457.0 373.3,457.3 374.9,457.4 376.6,457.4 372.8,454.6 368.9,451.7 365.1,448.6 363.5,448.5 361.8,448.3"/><polygon points="371.7,457.0 375.5,459.7 379.3,462.2 383.1,464.5 384.7,464.7 386.4,464.7 388.0,464.5 384.2,462.3 380.4,459.9 376.6,457.4 374.9,457.4 373.3,457.3"/><polygon points="383.1,464.5 386.9,466.6 390.7,468.6 394.5,470.3 396.1,470.4 397.8,470.3 399.4,470.0 395.6,468.4 391.8,466.5 388.0,464.5 386.4,464.7 384.7,464.7"/><polygon points="394.5,470.3 398.3,471.9 402.1,473.3 405.9,474.6 407.5,474.5 409.2,474.2 410.8,473.9 407.0,472.8 403.2,471.5 399.4,470.0 397.8,470.3 396.1,470.4"/><polygon points="405.9,474.6 409.7,475.6 413.4,476.4 417.2,477.1 418.9,476.9 420.5,476.6 422.1,476.1 418.3,475.5 414.6,474.8 410.8,473.9 409.2,474.2 407.5,474.5"/><polygon points="417.2,477.1 421.0,477.6 424.8,477.9 428.5,478.0 430.2,477.7 431.8,477.2 433.4,476.6 429.7,476.6 425.9,476.4 422.1,476.1 420.5,476.6 418.9,476.9"/><polygon points="428.5,478.0 432.3,478.0 436.0,477.7 439.8,477.3 441.4,476.9 443.1,476.3 444.7,475.5 440.9,476.1 437.2,476.4 433.4,476.6 431.8,477.2 430.2,477.7"/><polygon points="439.8,477.3 443.5,476.7 447.3,475.9 451.0,474.9 452.6,474.3 454.3,473.6 455.9,472.8 452.2,473.9 448.4,474.8 444.7,475.5 443.1,476.3 441.4,476.9"/><polygon points="451.0,474.9 454.7,473.7 458.5,472.4 462.2,470.9 463.8,470.2 465.4,469.4 467.1,468.4 463.3,470.0 459.6,471.5 455.9,472.8 454.3,473.6 452.6,474.3"/><polygon points="297.6,374.2 301.5,380.2 305.3,386.1 309.2,391.8 310.8,393.0 312.5,394.2 314.1,395.2 310.3,389.6 306.4,383.8 302.6,377.9 300.9,376.8 299.3,375.6"/><polygon points="309.2,391.8 313.0,397.3 316.9,402.6 320.7,407.7 322.4,408.9 324.0,409.9 325.7,410.8 321.8,405.8 318.0,400.5 314.1,395.2 312.5,394.2 310.8,393.0"/><polygon points="320.7,407.7 324.6,412.7 328.4,417.5 332.2,422.1 333.9,423.1 335.6,424.0 337.2,424.8 333.4,420.3 329.5,415.6 325.7,410.8 324.0,409.9 322.4,408.9"/><polygon points="332.2,422.1 336.1,426.5 339.9,430.7 343.8,434.8 345.4,435.7 347.1,436.5 348.7,437.2 344.9,433.2 341.0,429.1 337.2,424.8 335.6,424.0 333.9,423.1"/><polygon points="343.8,434.8 347.6,438.7 351.4,442.4 355.3,445.9 356.9,446.7 358.6,447.4 360.2,447.9 356.4,444.5 352.5,440.9 348.7,437.2 347.1,436.5 345.4,435.7"/><polygon points="355.3,445.9 359.1,449.2 362.9,452.4 366.7,455.4 368.4,456.1 370.0,456.6 371.7,457.0 367.8,454.2 364.0,451.1 360.2,447.9 358.6,447.4 356.9,446.7"/><polygon points="366.7,455.4 370.5,458.2 374.3,460.8 378.2,463.2 379.8,463.8 381.5,464.2 383.1,464.5 379.3,462.2 375.5,459.7 371.7,457.0 370.0,456.6 368.4,456.1"/><polygon points="378.2,463.2 382.0,465.4 385.8,467.5 389.6,469.4 391.2,469.9 392.9,470.2 394.5,470.3 390.7,468.6 386.9,466.6 383.1,464.5 381.5,464.2 379.8,463.8"/><polygon points="389.6,469.4 393.4,471.1 397.2,472.6 401.0,473.9 402.6,474.3 404.2,474.5 405.9,474.6 402.1,473.3 398.3,471.9 394.5,470.3 392.9,470.2 391.2,469.9"/><polygon points="401.0,473.9 404.7,475.1 408.5,476.1 412.3,476.9 413.9,477.1 415.6,477.2 417.2,477.1 413.4,476.4 409.7,475.6 405.9,474.6 404.2,474.5 402.6,474.3"/><polygon points="412.3,476.9 416.1,477.5 419.8,477.9 423.6,478.1 425.3,478.2 426.9,478.2 428.5,478.0 424.8,477.9 421.0,477.6 417.2,477.1 415.6,477.2 413.9,477.1"/><polygon points="423.6,478.1 427.4,478.2 431.1,478.1 434.9,477.8 436.5,477.7 438.2,477.6 439.8,477.3 436.0,477.7 432.3,478.0 428.5,478.0 426.9,478.2 425.3,478.2"/><polygon points="434.9,477.8 438.6,477.3 442.4,476.6 446.1,475.7 447.8,475.6 449.4,475.3 451.0,474.9 447.3,475.9 443.5,476.7 439.8,477.3 438.2,477.6 436.5,477.7"/><polygon points="446.1,475.7 449.8,474.7 453.6,473.5 457.3,472.0 458.9,471.8 460.6,471.4 462.2,470.9 458.5,472.4 454.7,473.7 451.0,474.9 449.4,475.3 447.8,475.6"/></g>
<rect x="213.3" y="307.5" width="80.1" height="46.0" fill="#fff" stroke="#b4b4b4" stroke-width="1"/>
<text x="167.7" y="340.0" font-size="19.6" font-weight="bold" fill="#f40b0b" stroke="#f40b0b" stroke-width="0.4" textLength="11.1" lengthAdjust="spacingAndGlyphs">C</text>
<text x="224.0" y="320.8" font-size="10.8" font-weight="normal" fill="#14142a" stroke="#14142a" stroke-width="0.42" textLength="57.8" lengthAdjust="spacingAndGlyphs">Hold Values</text>
<text x="226.2" y="335.5" font-size="10.8" font-weight="normal" fill="#14142a" stroke="#14142a" stroke-width="0.42" textLength="52.5" lengthAdjust="spacingAndGlyphs">Smix %&#160;&#160;10</text>
<text x="252.8" y="366.2" font-size="10.2" font-weight="bold" fill="#000" stroke="#000" stroke-width="0.3" textLength="13.7" lengthAdjust="spacingAndGlyphs">1.4</text>
<text x="253.0" y="389.6" font-size="10.2" font-weight="bold" fill="#000" stroke="#000" stroke-width="0.3" textLength="13.7" lengthAdjust="spacingAndGlyphs">1.2</text>
<text x="253.3" y="412.8" font-size="10.2" font-weight="bold" fill="#000" stroke="#000" stroke-width="0.3" textLength="14.0" lengthAdjust="spacingAndGlyphs">1.0</text>
<text x="254.0" y="436.7" font-size="10.2" font-weight="bold" fill="#000" stroke="#000" stroke-width="0.3" textLength="14.0" lengthAdjust="spacingAndGlyphs">0.8</text>
<text x="254.0" y="459.8" font-size="10.2" font-weight="bold" fill="#000" stroke="#000" stroke-width="0.3" textLength="14.0" lengthAdjust="spacingAndGlyphs">0.6</text>
<text x="254.6" y="483.2" font-size="10.2" font-weight="bold" fill="#000" stroke="#000" stroke-width="0.3" textLength="13.9" lengthAdjust="spacingAndGlyphs">0.4</text>
<text x="221.0" y="418.5" font-size="10.5" font-weight="bold" fill="#000" stroke="#000" stroke-width="0.3" textLength="17.0" lengthAdjust="spacingAndGlyphs">PDI</text>
<text x="279.0" y="502.7" font-size="10.2" font-weight="bold" fill="#000" stroke="#000" stroke-width="0.3" textLength="11.2" lengthAdjust="spacingAndGlyphs">20</text>
<text x="318.6" y="509.2" font-size="10.2" font-weight="bold" fill="#000" stroke="#000" stroke-width="0.3" textLength="11.4" lengthAdjust="spacingAndGlyphs">25</text>
<text x="357.3" y="515.7" font-size="10.2" font-weight="bold" fill="#000" stroke="#000" stroke-width="0.3" textLength="11.4" lengthAdjust="spacingAndGlyphs">30</text>
<text x="396.6" y="522.1" font-size="10.2" font-weight="bold" fill="#000" stroke="#000" stroke-width="0.3" textLength="11.6" lengthAdjust="spacingAndGlyphs">35</text>
<text x="436.1" y="528.6" font-size="10.2" font-weight="bold" fill="#000" stroke="#000" stroke-width="0.3" textLength="11.7" lengthAdjust="spacingAndGlyphs">40</text>
<text x="310.8" y="535.6" font-size="10.5" font-weight="bold" fill="#000" stroke="#000" stroke-width="0.3" textLength="65.9" lengthAdjust="spacingAndGlyphs">Amplitude %</text>
<text x="550.3" y="447.7" font-size="10.2" font-weight="bold" fill="#000" stroke="#000" stroke-width="0.3" textLength="10.6" lengthAdjust="spacingAndGlyphs">90</text>
<text x="533.6" y="465.4" font-size="10.2" font-weight="bold" fill="#000" stroke="#000" stroke-width="0.3" textLength="10.4" lengthAdjust="spacingAndGlyphs">75</text>
<text x="516.2" y="483.2" font-size="10.2" font-weight="bold" fill="#000" stroke="#000" stroke-width="0.3" textLength="10.4" lengthAdjust="spacingAndGlyphs">60</text>
<text x="499.3" y="500.5" font-size="10.2" font-weight="bold" fill="#000" stroke="#000" stroke-width="0.3" textLength="10.6" lengthAdjust="spacingAndGlyphs">45</text>
<text x="482.5" y="518.0" font-size="10.2" font-weight="bold" fill="#000" stroke="#000" stroke-width="0.3" textLength="10.4" lengthAdjust="spacingAndGlyphs">30</text>
<text x="542.0" y="489.9" font-size="10.5" font-weight="bold" fill="#000" stroke="#000" stroke-width="0.3" textLength="51.3" lengthAdjust="spacingAndGlyphs">Time (sec)</text>
<text x="211.6" y="563.0" font-size="18.2" font-weight="normal" fill="#000" stroke="#000" stroke-width="0.4" textLength="368.5" lengthAdjust="spacingAndGlyphs">Surface Plot of PDI vs Time (sec), Amplitude %</text>
</svg>
</body></html>
